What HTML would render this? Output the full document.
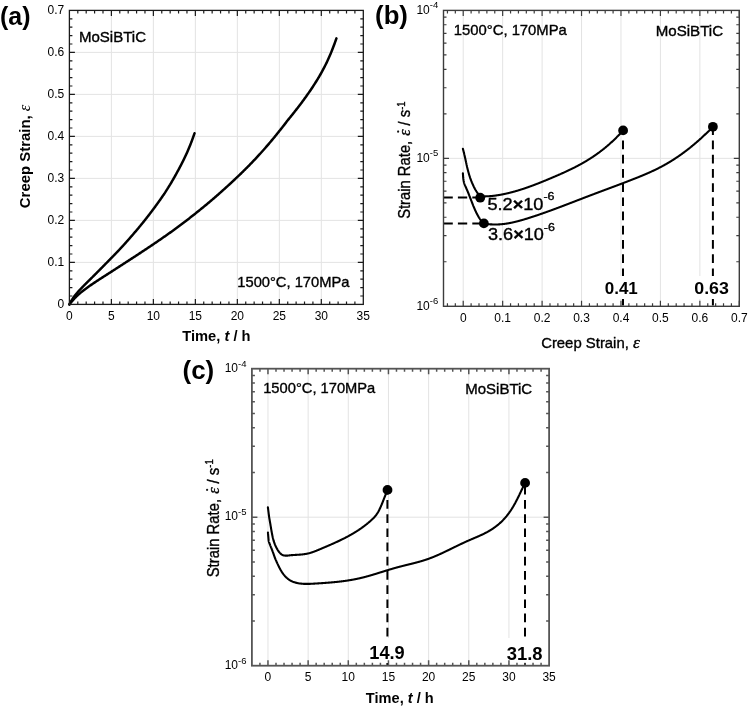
<!DOCTYPE html><html><head><meta charset="utf-8"><style>html,body{margin:0;padding:0;background:#fff;}svg{display:block;will-change:transform;}text{font-family:"Liberation Sans", sans-serif;fill:#000;}text.hv{stroke:#000;stroke-width:0.35px;}</style></head><body>
<svg width="750" height="708" viewBox="0 0 750 708">
<rect width="750" height="708" fill="#fff"/>
<line x1="111.39" y1="10.4" x2="111.39" y2="304.4" stroke="#e3e3e3" stroke-width="1"/>
<line x1="153.37" y1="10.4" x2="153.37" y2="304.4" stroke="#e3e3e3" stroke-width="1"/>
<line x1="195.36" y1="10.4" x2="195.36" y2="304.4" stroke="#e3e3e3" stroke-width="1"/>
<line x1="237.34" y1="10.4" x2="237.34" y2="304.4" stroke="#e3e3e3" stroke-width="1"/>
<line x1="279.33" y1="10.4" x2="279.33" y2="304.4" stroke="#e3e3e3" stroke-width="1"/>
<line x1="321.31" y1="10.4" x2="321.31" y2="304.4" stroke="#e3e3e3" stroke-width="1"/>
<line x1="69.4" y1="262.4" x2="363.3" y2="262.4" stroke="#e3e3e3" stroke-width="1"/>
<line x1="69.4" y1="220.4" x2="363.3" y2="220.4" stroke="#e3e3e3" stroke-width="1"/>
<line x1="69.4" y1="178.4" x2="363.3" y2="178.4" stroke="#e3e3e3" stroke-width="1"/>
<line x1="69.4" y1="136.4" x2="363.3" y2="136.4" stroke="#e3e3e3" stroke-width="1"/>
<line x1="69.4" y1="94.4" x2="363.3" y2="94.4" stroke="#e3e3e3" stroke-width="1"/>
<line x1="69.4" y1="52.4" x2="363.3" y2="52.4" stroke="#e3e3e3" stroke-width="1"/>
<path d="M69.4,304.4 L69.71,303.76 L70.03,303.14 L70.34,302.54 L70.65,301.97 L70.97,301.41 L71.28,300.87 L71.6,300.34 L71.91,299.83 L72.22,299.33 L72.54,298.84 L72.85,298.37 L73.16,297.91 L73.48,297.46 L73.79,297.03 L74.1,296.6 L74.42,296.18 L74.73,295.77 L75.04,295.37 L75.36,294.98 L75.67,294.59 L75.99,294.21 L76.3,293.83 L76.61,293.45 L76.93,293.09 L77.24,292.72 L77.55,292.36 L77.87,292 L78.18,291.65 L78.49,291.3 L78.81,290.95 L79.12,290.6 L79.43,290.26 L79.75,289.92 L80.06,289.58 L80.38,289.25 L80.69,288.92 L81,288.59 L81.32,288.26 L81.63,287.93 L81.94,287.61 L82.26,287.28 L82.57,286.96 L82.88,286.64 L83.2,286.32 L83.51,286 L83.82,285.69 L84.14,285.37 L84.45,285.06 L84.77,284.74 L85.08,284.43 L85.39,284.12 L85.71,283.8 L86.02,283.49 L86.33,283.18 L86.65,282.86 L86.96,282.55 L87.27,282.24 L87.59,281.93 L87.9,281.62 L88.21,281.31 L88.53,280.99 L88.84,280.68 L89.16,280.37 L89.47,280.06 L89.78,279.75 L90.1,279.44 L90.41,279.13 L90.72,278.81 L91.04,278.5 L91.35,278.19 L91.66,277.88 L91.98,277.57 L92.29,277.25 L92.6,276.94 L92.92,276.63 L93.23,276.32 L93.55,276 L93.86,275.69 L94.17,275.38 L94.49,275.06 L94.8,274.75 L95.11,274.43 L95.43,274.12 L95.74,273.81 L96.05,273.49 L96.37,273.18 L96.68,272.86 L96.99,272.55 L97.31,272.23 L97.62,271.92 L97.94,271.6 L98.25,271.28 L98.56,270.97 L98.88,270.65 L99.19,270.34 L99.5,270.02 L99.82,269.7 L100.13,269.39 L100.44,269.07 L100.76,268.75 L101.07,268.44 L101.38,268.12 L101.7,267.8 L102.01,267.48 L102.33,267.17 L102.64,266.85 L102.95,266.53 L103.27,266.21 L103.58,265.9 L103.89,265.58 L104.21,265.26 L104.52,264.94 L104.83,264.63 L105.15,264.31 L105.46,263.99 L105.77,263.67 L106.09,263.35 L106.4,263.03 L106.72,262.72 L107.03,262.4 L107.34,262.08 L107.66,261.76 L107.97,261.44 L108.28,261.12 L108.6,260.8 L108.91,260.48 L109.22,260.16 L109.54,259.84 L109.85,259.52 L110.17,259.2 L110.48,258.88 L110.79,258.56 L111.11,258.24 L111.42,257.92 L111.73,257.6 L112.05,257.28 L112.36,256.96 L112.67,256.64 L112.99,256.32 L113.3,256 L113.61,255.67 L113.93,255.35 L114.24,255.03 L114.56,254.7 L114.87,254.38 L115.18,254.05 L115.5,253.73 L115.81,253.4 L116.12,253.08 L116.44,252.75 L116.75,252.42 L117.06,252.09 L117.38,251.76 L117.69,251.43 L118,251.1 L118.32,250.77 L118.63,250.44 L118.95,250.11 L119.26,249.77 L119.57,249.44 L119.89,249.11 L120.2,248.77 L120.51,248.43 L120.83,248.09 L121.14,247.76 L121.45,247.42 L121.77,247.08 L122.08,246.74 L122.39,246.4 L122.71,246.05 L123.02,245.71 L123.34,245.37 L123.65,245.02 L123.96,244.68 L124.28,244.33 L124.59,243.99 L124.9,243.64 L125.22,243.29 L125.53,242.94 L125.84,242.59 L126.16,242.24 L126.47,241.89 L126.78,241.54 L127.1,241.19 L127.41,240.84 L127.73,240.48 L128.04,240.13 L128.35,239.77 L128.67,239.42 L128.98,239.06 L129.29,238.7 L129.61,238.34 L129.92,237.98 L130.23,237.63 L130.55,237.27 L130.86,236.91 L131.17,236.54 L131.49,236.18 L131.8,235.82 L132.12,235.46 L132.43,235.1 L132.74,234.73 L133.06,234.37 L133.37,234 L133.68,233.64 L134,233.27 L134.31,232.91 L134.62,232.54 L134.94,232.17 L135.25,231.81 L135.56,231.44 L135.88,231.07 L136.19,230.7 L136.51,230.33 L136.82,229.96 L137.13,229.58 L137.45,229.21 L137.76,228.84 L138.07,228.46 L138.39,228.09 L138.7,227.71 L139.01,227.34 L139.33,226.96 L139.64,226.58 L139.95,226.2 L140.27,225.83 L140.58,225.44 L140.9,225.06 L141.21,224.68 L141.52,224.3 L141.84,223.91 L142.15,223.53 L142.46,223.14 L142.78,222.76 L143.09,222.37 L143.4,221.98 L143.72,221.59 L144.03,221.2 L144.35,220.81 L144.66,220.42 L144.97,220.02 L145.29,219.63 L145.6,219.23 L145.91,218.84 L146.23,218.44 L146.54,218.04 L146.85,217.64 L147.17,217.24 L147.48,216.84 L147.79,216.44 L148.11,216.03 L148.42,215.63 L148.74,215.22 L149.05,214.82 L149.36,214.41 L149.68,214 L149.99,213.59 L150.3,213.18 L150.62,212.77 L150.93,212.36 L151.24,211.94 L151.56,211.53 L151.87,211.11 L152.18,210.7 L152.5,210.28 L152.81,209.86 L153.13,209.44 L153.44,209.02 L153.75,208.59 L154.07,208.17 L154.38,207.75 L154.69,207.32 L155.01,206.89 L155.32,206.47 L155.63,206.04 L155.95,205.61 L156.26,205.18 L156.57,204.75 L156.89,204.31 L157.2,203.88 L157.52,203.44 L157.83,203.01 L158.14,202.57 L158.46,202.13 L158.77,201.69 L159.08,201.25 L159.4,200.81 L159.71,200.37 L160.02,199.92 L160.34,199.48 L160.65,199.03 L160.96,198.58 L161.28,198.13 L161.59,197.68 L161.91,197.23 L162.22,196.78 L162.53,196.33 L162.85,195.87 L163.16,195.41 L163.47,194.95 L163.79,194.49 L164.1,194.02 L164.41,193.55 L164.73,193.08 L165.04,192.6 L165.35,192.12 L165.67,191.64 L165.98,191.15 L166.3,190.66 L166.61,190.17 L166.92,189.68 L167.24,189.19 L167.55,188.69 L167.86,188.19 L168.18,187.69 L168.49,187.18 L168.8,186.67 L169.12,186.16 L169.43,185.65 L169.74,185.13 L170.06,184.62 L170.37,184.1 L170.69,183.57 L171,183.05 L171.31,182.52 L171.63,181.99 L171.94,181.46 L172.25,180.92 L172.57,180.39 L172.88,179.85 L173.19,179.3 L173.51,178.76 L173.82,178.21 L174.13,177.66 L174.45,177.11 L174.76,176.55 L175.08,176 L175.39,175.44 L175.7,174.87 L176.02,174.31 L176.33,173.74 L176.64,173.18 L176.96,172.61 L177.27,172.03 L177.58,171.46 L177.9,170.88 L178.21,170.3 L178.52,169.72 L178.84,169.14 L179.15,168.55 L179.47,167.96 L179.78,167.37 L180.09,166.77 L180.41,166.17 L180.72,165.57 L181.03,164.96 L181.35,164.35 L181.66,163.74 L181.97,163.13 L182.29,162.51 L182.6,161.88 L182.92,161.26 L183.23,160.63 L183.54,159.99 L183.86,159.35 L184.17,158.71 L184.48,158.06 L184.8,157.4 L185.11,156.74 L185.42,156.07 L185.74,155.4 L186.05,154.73 L186.36,154.04 L186.68,153.35 L186.99,152.66 L187.31,151.96 L187.62,151.25 L187.93,150.53 L188.25,149.8 L188.56,149.06 L188.87,148.32 L189.19,147.57 L189.5,146.8 L189.81,146.03 L190.13,145.25 L190.44,144.46 L190.75,143.66 L191.07,142.85 L191.38,142.03 L191.7,141.2 L192.01,140.36 L192.32,139.51 L192.64,138.65 L192.95,137.78 L193.26,136.9 L193.58,136.01 L193.89,135.11 L194.2,134.21 L194.52,133.3" fill="none" stroke="#000" stroke-width="2.5" stroke-linecap="round" stroke-linejoin="round"/>
<path d="M69.4,304.4 L70.07,303.51 L70.74,302.68 L71.41,301.89 L72.08,301.11 L72.75,300.35 L73.42,299.61 L74.08,298.88 L74.75,298.18 L75.42,297.49 L76.09,296.83 L76.76,296.18 L77.43,295.55 L78.1,294.93 L78.77,294.33 L79.44,293.74 L80.11,293.17 L80.78,292.6 L81.45,292.05 L82.12,291.51 L82.78,290.97 L83.45,290.45 L84.12,289.93 L84.79,289.42 L85.46,288.92 L86.13,288.43 L86.8,287.94 L87.47,287.46 L88.14,286.98 L88.81,286.5 L89.48,286.03 L90.15,285.57 L90.82,285.11 L91.49,284.65 L92.15,284.19 L92.82,283.74 L93.49,283.29 L94.16,282.85 L94.83,282.4 L95.5,281.96 L96.17,281.52 L96.84,281.08 L97.51,280.64 L98.18,280.2 L98.85,279.77 L99.52,279.33 L100.19,278.9 L100.85,278.46 L101.52,278.03 L102.19,277.6 L102.86,277.17 L103.53,276.74 L104.2,276.3 L104.87,275.87 L105.54,275.44 L106.21,275.01 L106.88,274.58 L107.55,274.16 L108.22,273.73 L108.89,273.3 L109.55,272.87 L110.22,272.44 L110.89,272.01 L111.56,271.58 L112.23,271.15 L112.9,270.72 L113.57,270.29 L114.24,269.86 L114.91,269.43 L115.58,269 L116.25,268.57 L116.92,268.14 L117.59,267.71 L118.25,267.28 L118.92,266.85 L119.59,266.41 L120.26,265.98 L120.93,265.55 L121.6,265.12 L122.27,264.68 L122.94,264.25 L123.61,263.82 L124.28,263.38 L124.95,262.95 L125.62,262.52 L126.29,262.08 L126.96,261.65 L127.62,261.21 L128.29,260.78 L128.96,260.34 L129.63,259.91 L130.3,259.47 L130.97,259.04 L131.64,258.6 L132.31,258.17 L132.98,257.73 L133.65,257.29 L134.32,256.86 L134.99,256.42 L135.66,255.98 L136.32,255.54 L136.99,255.11 L137.66,254.67 L138.33,254.23 L139,253.79 L139.67,253.35 L140.34,252.91 L141.01,252.47 L141.68,252.03 L142.35,251.58 L143.02,251.14 L143.69,250.7 L144.36,250.26 L145.02,249.81 L145.69,249.37 L146.36,248.92 L147.03,248.48 L147.7,248.03 L148.37,247.58 L149.04,247.14 L149.71,246.69 L150.38,246.24 L151.05,245.79 L151.72,245.34 L152.39,244.89 L153.06,244.44 L153.72,243.98 L154.39,243.53 L155.06,243.08 L155.73,242.62 L156.4,242.17 L157.07,241.71 L157.74,241.25 L158.41,240.8 L159.08,240.34 L159.75,239.88 L160.42,239.42 L161.09,238.96 L161.76,238.49 L162.43,238.03 L163.09,237.57 L163.76,237.1 L164.43,236.64 L165.1,236.17 L165.77,235.7 L166.44,235.23 L167.11,234.76 L167.78,234.29 L168.45,233.82 L169.12,233.34 L169.79,232.86 L170.46,232.39 L171.13,231.91 L171.79,231.43 L172.46,230.95 L173.13,230.46 L173.8,229.98 L174.47,229.49 L175.14,229 L175.81,228.51 L176.48,228.02 L177.15,227.53 L177.82,227.03 L178.49,226.54 L179.16,226.04 L179.83,225.54 L180.49,225.04 L181.16,224.54 L181.83,224.04 L182.5,223.53 L183.17,223.03 L183.84,222.52 L184.51,222.01 L185.18,221.5 L185.85,220.98 L186.52,220.47 L187.19,219.95 L187.86,219.44 L188.53,218.92 L189.2,218.4 L189.86,217.88 L190.53,217.36 L191.2,216.83 L191.87,216.31 L192.54,215.78 L193.21,215.25 L193.88,214.72 L194.55,214.19 L195.22,213.66 L195.89,213.13 L196.56,212.59 L197.23,212.05 L197.9,211.52 L198.56,210.98 L199.23,210.44 L199.9,209.9 L200.57,209.35 L201.24,208.81 L201.91,208.26 L202.58,207.72 L203.25,207.17 L203.92,206.62 L204.59,206.07 L205.26,205.52 L205.93,204.96 L206.6,204.41 L207.26,203.85 L207.93,203.29 L208.6,202.73 L209.27,202.17 L209.94,201.6 L210.61,201.04 L211.28,200.47 L211.95,199.9 L212.62,199.33 L213.29,198.75 L213.96,198.18 L214.63,197.6 L215.3,197.02 L215.96,196.44 L216.63,195.86 L217.3,195.28 L217.97,194.69 L218.64,194.11 L219.31,193.52 L219.98,192.93 L220.65,192.33 L221.32,191.74 L221.99,191.14 L222.66,190.54 L223.33,189.94 L224,189.34 L224.67,188.74 L225.33,188.13 L226,187.53 L226.67,186.92 L227.34,186.31 L228.01,185.7 L228.68,185.08 L229.35,184.47 L230.02,183.85 L230.69,183.23 L231.36,182.61 L232.03,181.99 L232.7,181.37 L233.37,180.74 L234.03,180.12 L234.7,179.49 L235.37,178.86 L236.04,178.22 L236.71,177.59 L237.38,176.95 L238.05,176.32 L238.72,175.68 L239.39,175.03 L240.06,174.39 L240.73,173.74 L241.4,173.09 L242.07,172.44 L242.73,171.78 L243.4,171.13 L244.07,170.47 L244.74,169.8 L245.41,169.14 L246.08,168.47 L246.75,167.8 L247.42,167.13 L248.09,166.45 L248.76,165.77 L249.43,165.09 L250.1,164.4 L250.77,163.72 L251.43,163.03 L252.1,162.33 L252.77,161.63 L253.44,160.93 L254.11,160.23 L254.78,159.52 L255.45,158.81 L256.12,158.1 L256.79,157.38 L257.46,156.66 L258.13,155.93 L258.8,155.2 L259.47,154.47 L260.14,153.74 L260.8,153 L261.47,152.25 L262.14,151.51 L262.81,150.76 L263.48,150 L264.15,149.24 L264.82,148.48 L265.49,147.71 L266.16,146.94 L266.83,146.17 L267.5,145.39 L268.17,144.61 L268.84,143.83 L269.5,143.04 L270.17,142.25 L270.84,141.45 L271.51,140.65 L272.18,139.85 L272.85,139.04 L273.52,138.24 L274.19,137.42 L274.86,136.61 L275.53,135.79 L276.2,134.97 L276.87,134.15 L277.54,133.32 L278.2,132.49 L278.87,131.66 L279.54,130.82 L280.21,129.98 L280.88,129.13 L281.55,128.28 L282.22,127.43 L282.89,126.58 L283.56,125.72 L284.23,124.86 L284.9,123.99 L285.57,123.12 L286.24,122.25 L286.9,121.37 L287.57,120.49 L288.24,119.66 L288.91,118.85 L289.58,118.03 L290.25,117.2 L290.92,116.38 L291.59,115.55 L292.26,114.71 L292.93,113.88 L293.6,113.03 L294.27,112.19 L294.94,111.34 L295.61,110.49 L296.27,109.63 L296.94,108.77 L297.61,107.91 L298.28,107.04 L298.95,106.17 L299.62,105.29 L300.29,104.41 L300.96,103.52 L301.63,102.63 L302.3,101.73 L302.97,100.82 L303.64,99.91 L304.31,99 L304.97,98.08 L305.64,97.15 L306.31,96.21 L306.98,95.27 L307.65,94.32 L308.32,93.36 L308.99,92.4 L309.66,91.43 L310.33,90.45 L311,89.46 L311.67,88.46 L312.34,87.46 L313.01,86.45 L313.67,85.43 L314.34,84.39 L315.01,83.35 L315.68,82.29 L316.35,81.23 L317.02,80.14 L317.69,79.05 L318.36,77.93 L319.03,76.81 L319.7,75.66 L320.37,74.5 L321.04,73.32 L321.71,72.12 L322.37,70.9 L323.04,69.66 L323.71,68.39 L324.38,67.1 L325.05,65.79 L325.72,64.45 L326.39,63.08 L327.06,61.69 L327.73,60.26 L328.4,58.8 L329.07,57.31 L329.74,55.78 L330.41,54.21 L331.08,52.61 L331.74,50.96 L332.41,49.27 L333.08,47.54 L333.75,45.78 L334.42,43.98 L335.09,42.15 L335.76,40.29 L336.43,38.39" fill="none" stroke="#000" stroke-width="2.5" stroke-linecap="round" stroke-linejoin="round"/>
<rect x="69.4" y="10.4" width="293.9" height="294" fill="none" stroke="#1a1a1a" stroke-width="1.3"/>
<path d="M111.39,304.4v-5.5 M111.39,10.4v5.5 M153.37,304.4v-5.5 M153.37,10.4v5.5 M195.36,304.4v-5.5 M195.36,10.4v5.5 M237.34,304.4v-5.5 M237.34,10.4v5.5 M279.33,304.4v-5.5 M279.33,10.4v5.5 M321.31,304.4v-5.5 M321.31,10.4v5.5 M77.8,304.4v-3 M77.8,10.4v3 M86.19,304.4v-3 M86.19,10.4v3 M94.59,304.4v-3 M94.59,10.4v3 M102.99,304.4v-3 M102.99,10.4v3 M119.78,304.4v-3 M119.78,10.4v3 M128.18,304.4v-3 M128.18,10.4v3 M136.58,304.4v-3 M136.58,10.4v3 M144.97,304.4v-3 M144.97,10.4v3 M161.77,304.4v-3 M161.77,10.4v3 M170.17,304.4v-3 M170.17,10.4v3 M178.56,304.4v-3 M178.56,10.4v3 M186.96,304.4v-3 M186.96,10.4v3 M203.75,304.4v-3 M203.75,10.4v3 M212.15,304.4v-3 M212.15,10.4v3 M220.55,304.4v-3 M220.55,10.4v3 M228.95,304.4v-3 M228.95,10.4v3 M245.74,304.4v-3 M245.74,10.4v3 M254.14,304.4v-3 M254.14,10.4v3 M262.53,304.4v-3 M262.53,10.4v3 M270.93,304.4v-3 M270.93,10.4v3 M287.73,304.4v-3 M287.73,10.4v3 M296.12,304.4v-3 M296.12,10.4v3 M304.52,304.4v-3 M304.52,10.4v3 M312.92,304.4v-3 M312.92,10.4v3 M329.71,304.4v-3 M329.71,10.4v3 M338.11,304.4v-3 M338.11,10.4v3 M346.51,304.4v-3 M346.51,10.4v3 M354.9,304.4v-3 M354.9,10.4v3 M69.4,262.4h5.5 M363.3,262.4h-5.5 M69.4,220.4h5.5 M363.3,220.4h-5.5 M69.4,178.4h5.5 M363.3,178.4h-5.5 M69.4,136.4h5.5 M363.3,136.4h-5.5 M69.4,94.4h5.5 M363.3,94.4h-5.5 M69.4,52.4h5.5 M363.3,52.4h-5.5 M69.4,296h3 M363.3,296h-3 M69.4,287.6h3 M363.3,287.6h-3 M69.4,279.2h3 M363.3,279.2h-3 M69.4,270.8h3 M363.3,270.8h-3 M69.4,254h3 M363.3,254h-3 M69.4,245.6h3 M363.3,245.6h-3 M69.4,237.2h3 M363.3,237.2h-3 M69.4,228.8h3 M363.3,228.8h-3 M69.4,212h3 M363.3,212h-3 M69.4,203.6h3 M363.3,203.6h-3 M69.4,195.2h3 M363.3,195.2h-3 M69.4,186.8h3 M363.3,186.8h-3 M69.4,170h3 M363.3,170h-3 M69.4,161.6h3 M363.3,161.6h-3 M69.4,153.2h3 M363.3,153.2h-3 M69.4,144.8h3 M363.3,144.8h-3 M69.4,128h3 M363.3,128h-3 M69.4,119.6h3 M363.3,119.6h-3 M69.4,111.2h3 M363.3,111.2h-3 M69.4,102.8h3 M363.3,102.8h-3 M69.4,86h3 M363.3,86h-3 M69.4,77.6h3 M363.3,77.6h-3 M69.4,69.2h3 M363.3,69.2h-3 M69.4,60.8h3 M363.3,60.8h-3 M69.4,44h3 M363.3,44h-3 M69.4,35.6h3 M363.3,35.6h-3 M69.4,27.2h3 M363.3,27.2h-3 M69.4,18.8h3 M363.3,18.8h-3 " stroke="#1a1a1a" stroke-width="1.2" fill="none"/>
<text x="69.4" y="319.6" font-size="12" text-anchor="middle" font-weight="normal">0</text>
<text x="111.39" y="319.6" font-size="12" text-anchor="middle" font-weight="normal">5</text>
<text x="153.37" y="319.6" font-size="12" text-anchor="middle" font-weight="normal">10</text>
<text x="195.36" y="319.6" font-size="12" text-anchor="middle" font-weight="normal">15</text>
<text x="237.34" y="319.6" font-size="12" text-anchor="middle" font-weight="normal">20</text>
<text x="279.33" y="319.6" font-size="12" text-anchor="middle" font-weight="normal">25</text>
<text x="321.31" y="319.6" font-size="12" text-anchor="middle" font-weight="normal">30</text>
<text x="363.3" y="319.6" font-size="12" text-anchor="middle" font-weight="normal">35</text>
<text x="64.2" y="308" font-size="12" text-anchor="end" font-weight="normal">0</text>
<text x="64.2" y="266" font-size="12" text-anchor="end" font-weight="normal">0.1</text>
<text x="64.2" y="224" font-size="12" text-anchor="end" font-weight="normal">0.2</text>
<text x="64.2" y="182" font-size="12" text-anchor="end" font-weight="normal">0.3</text>
<text x="64.2" y="140" font-size="12" text-anchor="end" font-weight="normal">0.4</text>
<text x="64.2" y="98" font-size="12" text-anchor="end" font-weight="normal">0.5</text>
<text x="64.2" y="56" font-size="12" text-anchor="end" font-weight="normal">0.6</text>
<text x="64.2" y="14" font-size="12" text-anchor="end" font-weight="normal">0.7</text>
<text id="timeA" x="216.4" y="341.4" font-size="14.5" text-anchor="middle" font-weight="bold" textLength="68.23" lengthAdjust="spacingAndGlyphs">Time, <tspan font-style="italic">t</tspan> / h</text>
<text id="ylabA" transform="translate(30,156.4) rotate(-90) scale(0.9698,1)" font-size="15.4" text-anchor="middle" font-weight="bold">Creep Strain, <tspan font-family="Liberation Serif" font-style="italic" font-weight="normal" font-size="17">ε</tspan></text>
<text id="labA" x="0" y="25.3" font-size="25" text-anchor="start" font-weight="bold" textLength="30.47" lengthAdjust="spacingAndGlyphs">(a)</text>
<text id="mosiA" class="hv" x="78.9" y="42.4" font-size="14.5" text-anchor="start" font-weight="normal" textLength="67.11" lengthAdjust="spacingAndGlyphs">MoSiBTiC</text>
<text id="condA" class="hv" x="237.3" y="286.9" font-size="14.5" text-anchor="start" font-weight="normal" textLength="112.09" lengthAdjust="spacingAndGlyphs">1500°C, 170MPa</text>
<line x1="463.22" y1="10.4" x2="463.22" y2="306.3" stroke="#e3e3e3" stroke-width="1"/>
<line x1="502.66" y1="10.4" x2="502.66" y2="306.3" stroke="#e3e3e3" stroke-width="1"/>
<line x1="542.1" y1="10.4" x2="542.1" y2="306.3" stroke="#e3e3e3" stroke-width="1"/>
<line x1="581.54" y1="10.4" x2="581.54" y2="306.3" stroke="#e3e3e3" stroke-width="1"/>
<line x1="620.98" y1="10.4" x2="620.98" y2="306.3" stroke="#e3e3e3" stroke-width="1"/>
<line x1="660.42" y1="10.4" x2="660.42" y2="306.3" stroke="#e3e3e3" stroke-width="1"/>
<line x1="699.86" y1="10.4" x2="699.86" y2="306.3" stroke="#e3e3e3" stroke-width="1"/>
<line x1="443.5" y1="158.35" x2="739.3" y2="158.35" stroke="#e3e3e3" stroke-width="1"/>
<line x1="443.5" y1="197.6" x2="480.2" y2="197.6" stroke="#000" stroke-width="2" stroke-dasharray="9.3 5.1"/>
<line x1="443.5" y1="223.4" x2="483.8" y2="223.4" stroke="#000" stroke-width="2" stroke-dasharray="9.3 5.1"/>
<line x1="623" y1="126.4" x2="623" y2="306.3" stroke="#000" stroke-width="2" stroke-dasharray="8.7 5.5" stroke-dashoffset="0"/>
<line x1="712.9" y1="126.4" x2="712.9" y2="306.3" stroke="#000" stroke-width="2" stroke-dasharray="8.7 5.5" stroke-dashoffset="0"/>
<path d="M462.9,148.8 L463,149.19 L463.1,149.58 L463.2,149.97 L463.3,150.36 L463.41,150.76 L463.51,151.15 L463.61,151.54 L463.71,151.93 L463.81,152.32 L463.91,152.71 L464,153.11 L464.1,153.5 L464.2,153.9 L464.29,154.29 L464.38,154.69 L464.48,155.09 L464.57,155.49 L464.66,155.89 L464.75,156.29 L464.84,156.69 L464.93,157.09 L465.02,157.49 L465.11,157.89 L465.2,158.3 L465.29,158.72 L465.38,159.14 L465.48,159.57 L465.57,159.99 L465.66,160.42 L465.75,160.85 L465.84,161.27 L465.93,161.7 L466.02,162.13 L466.12,162.55 L466.21,162.98 L466.3,163.4 L466.39,163.81 L466.48,164.22 L466.57,164.62 L466.65,165.03 L466.74,165.43 L466.83,165.83 L466.92,166.23 L467.01,166.64 L467.1,167.05 L467.2,167.46 L467.3,167.88 L467.4,168.3 L467.52,168.77 L467.64,169.26 L467.77,169.75 L467.9,170.24 L468.03,170.74 L468.16,171.24 L468.3,171.74 L468.44,172.24 L468.58,172.74 L468.72,173.23 L468.86,173.72 L469,174.2 L469.13,174.65 L469.27,175.09 L469.4,175.53 L469.54,175.97 L469.68,176.4 L469.81,176.83 L469.95,177.26 L470.1,177.69 L470.24,178.12 L470.39,178.54 L470.54,178.97 L470.7,179.4 L470.86,179.83 L471.03,180.26 L471.19,180.7 L471.36,181.13 L471.54,181.56 L471.72,181.99 L471.89,182.42 L472.07,182.84 L472.25,183.26 L472.44,183.68 L472.62,184.09 L472.8,184.5 L472.97,184.88 L473.14,185.25 L473.31,185.62 L473.48,185.98 L473.65,186.35 L473.83,186.71 L474,187.06 L474.18,187.42 L474.35,187.77 L474.53,188.12 L474.72,188.46 L474.9,188.8 L475.08,189.12 L475.25,189.43 L475.43,189.74 L475.61,190.05 L475.8,190.35 L475.98,190.66 L476.17,190.95 L476.35,191.25 L476.54,191.54 L476.73,191.83 L476.91,192.12 L477.1,192.4 L477.27,192.66 L477.44,192.92 L477.6,193.19 L477.77,193.45 L477.94,193.71 L478.1,193.96 L478.27,194.21 L478.45,194.45 L478.63,194.68 L478.81,194.9 L479,195.11 L479.2,195.3 L479.38,195.46 L479.56,195.61 L479.75,195.76 L479.94,195.91 L480.14,196.04 L480.33,196.17 L480.53,196.29 L480.74,196.39 L480.95,196.49 L481.16,196.57 L481.38,196.64 L481.6,196.7 L481.84,196.74 L482.08,196.76 L482.33,196.76 L482.58,196.74 L482.83,196.71 L483.09,196.66 L483.35,196.62 L483.63,196.57 L483.91,196.52 L484.19,196.47 L484.49,196.43 L484.8,196.4 L485.27,196.37 L485.78,196.34 L486.32,196.31 L486.88,196.28 L487.47,196.26 L488.05,196.23 L488.64,196.21 L489.22,196.18 L489.79,196.15 L490.33,196.12 L490.83,196.09 L491.3,196.05 L491.6,196.03 L491.89,196 L492.16,195.97 L492.43,195.94 L492.69,195.91 L492.94,195.88 L493.19,195.85 L493.43,195.82 L493.68,195.79 L493.93,195.76 L494.18,195.72 L494.44,195.69 L494.7,195.66 L494.96,195.62 L495.22,195.59 L495.48,195.55 L495.75,195.51 L496.01,195.48 L496.27,195.44 L496.53,195.4 L496.79,195.36 L497.05,195.32 L497.31,195.28 L497.58,195.24 L497.84,195.2 L498.1,195.16 L498.36,195.12 L498.62,195.07 L498.88,195.03 L499.15,194.99 L499.41,194.94 L499.67,194.9 L499.93,194.85 L500.19,194.8 L500.45,194.76 L500.71,194.71 L500.98,194.66 L501.24,194.61 L501.5,194.56 L501.76,194.51 L502.02,194.46 L502.28,194.41 L502.55,194.36 L502.81,194.31 L503.07,194.26 L503.33,194.21 L503.59,194.15 L503.85,194.1 L504.11,194.05 L504.38,193.99 L504.64,193.94 L504.9,193.88 L505.16,193.82 L505.42,193.77 L505.68,193.71 L505.95,193.65 L506.21,193.59 L506.47,193.53 L506.73,193.47 L506.99,193.42 L507.25,193.35 L507.51,193.29 L507.78,193.23 L508.04,193.17 L508.3,193.11 L508.56,193.05 L508.82,192.98 L509.08,192.92 L509.34,192.85 L509.61,192.79 L509.87,192.73 L510.13,192.66 L510.39,192.59 L510.65,192.53 L510.91,192.46 L511.18,192.39 L511.44,192.33 L511.7,192.26 L511.96,192.19 L512.22,192.12 L512.48,192.05 L512.74,191.98 L513.01,191.91 L513.27,191.84 L513.53,191.77 L513.79,191.69 L514.05,191.62 L514.31,191.55 L514.58,191.48 L514.84,191.4 L515.1,191.33 L515.36,191.25 L515.62,191.18 L515.88,191.1 L516.14,191.03 L516.4,190.95 L516.67,190.88 L516.93,190.8 L517.19,190.72 L517.45,190.64 L517.71,190.57 L517.97,190.49 L518.24,190.41 L518.5,190.33 L518.76,190.25 L519.02,190.17 L519.28,190.09 L519.54,190.01 L519.8,189.93 L520.07,189.85 L520.33,189.76 L520.59,189.68 L520.85,189.6 L521.11,189.52 L521.37,189.43 L521.64,189.35 L521.9,189.26 L522.16,189.18 L522.42,189.09 L522.68,189.01 L522.94,188.92 L523.2,188.84 L523.47,188.75 L523.73,188.66 L523.99,188.58 L524.25,188.49 L524.51,188.4 L524.77,188.31 L525.04,188.23 L525.3,188.14 L525.56,188.05 L525.82,187.96 L526.08,187.87 L526.34,187.78 L526.6,187.69 L526.87,187.6 L527.13,187.51 L527.39,187.42 L527.65,187.32 L527.91,187.23 L528.17,187.14 L528.43,187.05 L528.7,186.95 L528.96,186.86 L529.22,186.77 L529.48,186.67 L529.74,186.58 L530,186.49 L530.27,186.39 L530.53,186.3 L530.79,186.2 L531.05,186.1 L531.31,186.01 L531.57,185.91 L531.83,185.82 L532.1,185.72 L532.36,185.62 L532.62,185.53 L532.88,185.43 L533.14,185.33 L533.4,185.23 L533.67,185.13 L533.93,185.03 L534.19,184.94 L534.45,184.84 L534.71,184.74 L534.97,184.64 L535.23,184.54 L535.5,184.44 L535.76,184.34 L536.02,184.24 L536.28,184.14 L536.54,184.04 L536.8,183.93 L537.06,183.83 L537.33,183.73 L537.59,183.63 L537.85,183.53 L538.11,183.42 L538.37,183.32 L538.63,183.22 L538.89,183.12 L539.16,183.01 L539.42,182.91 L539.68,182.8 L539.94,182.7 L540.2,182.6 L540.46,182.49 L540.73,182.39 L540.99,182.28 L541.25,182.18 L541.51,182.07 L541.77,181.97 L542.03,181.86 L542.29,181.76 L542.56,181.65 L542.82,181.54 L543.08,181.44 L543.34,181.33 L543.6,181.22 L543.86,181.12 L544.12,181.01 L544.39,180.9 L544.65,180.8 L544.91,180.69 L545.17,180.58 L545.43,180.47 L545.69,180.36 L545.96,180.26 L546.22,180.15 L546.48,180.04 L546.74,179.93 L547,179.82 L547.26,179.71 L547.52,179.6 L547.79,179.5 L548.05,179.39 L548.31,179.28 L548.57,179.17 L548.83,179.06 L549.09,178.95 L549.36,178.84 L549.62,178.73 L549.88,178.62 L550.14,178.51 L550.4,178.4 L550.66,178.29 L550.92,178.17 L551.19,178.06 L551.45,177.95 L551.71,177.84 L551.97,177.73 L552.23,177.62 L552.49,177.51 L552.75,177.4 L553.02,177.28 L553.28,177.17 L553.54,177.06 L553.8,176.95 L554.06,176.84 L554.32,176.72 L554.59,176.61 L554.85,176.5 L555.11,176.39 L555.37,176.28 L555.63,176.16 L555.89,176.05 L556.15,175.94 L556.42,175.82 L556.68,175.71 L556.94,175.6 L557.2,175.48 L557.46,175.37 L557.72,175.26 L557.98,175.14 L558.25,175.03 L558.51,174.92 L558.77,174.8 L559.03,174.69 L559.29,174.57 L559.55,174.46 L559.82,174.34 L560.08,174.23 L560.34,174.11 L560.6,174 L560.86,173.88 L561.12,173.76 L561.38,173.65 L561.65,173.53 L561.91,173.42 L562.17,173.3 L562.43,173.18 L562.69,173.06 L562.95,172.95 L563.21,172.83 L563.48,172.71 L563.74,172.59 L564,172.47 L564.26,172.35 L564.52,172.24 L564.78,172.12 L565.05,172 L565.31,171.88 L565.57,171.76 L565.83,171.64 L566.09,171.52 L566.35,171.39 L566.61,171.27 L566.88,171.15 L567.14,171.03 L567.4,170.91 L567.66,170.78 L567.92,170.66 L568.18,170.54 L568.45,170.42 L568.71,170.29 L568.97,170.17 L569.23,170.04 L569.49,169.92 L569.75,169.79 L570.01,169.67 L570.28,169.54 L570.54,169.41 L570.8,169.29 L571.06,169.16 L571.32,169.03 L571.58,168.91 L571.85,168.78 L572.11,168.65 L572.37,168.52 L572.63,168.39 L572.89,168.26 L573.15,168.13 L573.41,168 L573.68,167.87 L573.94,167.74 L574.2,167.6 L574.46,167.47 L574.72,167.34 L574.98,167.21 L575.25,167.07 L575.51,166.94 L575.77,166.8 L576.03,166.67 L576.29,166.53 L576.55,166.4 L576.81,166.26 L577.08,166.12 L577.34,165.99 L577.6,165.85 L577.86,165.71 L578.12,165.57 L578.38,165.43 L578.64,165.29 L578.91,165.15 L579.17,165.01 L579.43,164.87 L579.69,164.73 L579.95,164.58 L580.21,164.44 L580.48,164.3 L580.74,164.15 L581,164.01 L581.26,163.86 L581.52,163.72 L581.78,163.57 L582.04,163.43 L582.3,163.28 L582.57,163.13 L582.83,162.98 L583.09,162.83 L583.35,162.68 L583.61,162.53 L583.88,162.38 L584.14,162.23 L584.4,162.08 L584.66,161.93 L584.92,161.77 L585.18,161.62 L585.44,161.46 L585.71,161.31 L585.97,161.15 L586.23,161 L586.49,160.84 L586.75,160.68 L587.01,160.52 L587.28,160.36 L587.54,160.2 L587.8,160.04 L588.06,159.88 L588.32,159.72 L588.58,159.56 L588.84,159.4 L589.11,159.23 L589.37,159.07 L589.63,158.9 L589.89,158.74 L590.15,158.57 L590.41,158.4 L590.68,158.24 L590.94,158.07 L591.2,157.9 L591.46,157.73 L591.72,157.56 L591.98,157.39 L592.24,157.21 L592.51,157.04 L592.77,156.87 L593.03,156.69 L593.29,156.52 L593.55,156.34 L593.81,156.16 L594.08,155.99 L594.34,155.81 L594.6,155.63 L594.86,155.45 L595.12,155.27 L595.38,155.09 L595.64,154.91 L595.91,154.72 L596.17,154.54 L596.43,154.36 L596.69,154.17 L596.95,153.98 L597.21,153.8 L597.47,153.61 L597.73,153.42 L598,153.23 L598.26,153.04 L598.52,152.85 L598.78,152.66 L599.04,152.46 L599.31,152.27 L599.57,152.08 L599.83,151.88 L600.09,151.69 L600.35,151.49 L600.61,151.29 L600.87,151.09 L601.13,150.89 L601.4,150.69 L601.66,150.49 L601.92,150.29 L602.18,150.08 L602.44,149.88 L602.71,149.67 L602.97,149.47 L603.23,149.26 L603.49,149.05 L603.75,148.85 L604.01,148.64 L604.27,148.43 L604.53,148.21 L604.8,148 L605.06,147.79 L605.32,147.57 L605.58,147.36 L605.84,147.14 L606.11,146.92 L606.37,146.7 L606.63,146.48 L606.89,146.27 L607.15,146.04 L607.41,145.82 L607.67,145.6 L607.94,145.37 L608.2,145.15 L608.46,144.92 L608.72,144.69 L608.98,144.46 L609.24,144.24 L609.51,144.01 L609.77,143.77 L610.03,143.54 L610.29,143.31 L610.55,143.08 L610.81,142.84 L611.07,142.6 L611.34,142.36 L611.6,142.12 L611.86,141.88 L612.12,141.64 L612.38,141.4 L612.64,141.16 L612.9,140.92 L613.17,140.67 L613.43,140.43 L613.69,140.18 L613.95,139.93 L614.21,139.68 L614.47,139.43 L614.74,139.17 L615,138.92 L615.26,138.67 L615.52,138.41 L615.78,138.16 L616.04,137.9 L616.3,137.64 L616.56,137.38 L616.82,137.12 L617.09,136.86 L617.35,136.6 L617.61,136.33 L617.87,136.06 L618.14,135.8 L618.4,135.53 L618.66,135.26 L618.92,134.99 L619.18,134.72 L619.44,134.45 L619.7,134.17 L619.96,133.9 L620.22,133.62 L620.49,133.34 L620.75,133.06 L621.01,132.78 L621.27,132.5 L621.53,132.21 L621.79,131.93 L622.06,131.64 L622.32,131.36 L622.58,131.07 L622.84,130.79 L623.1,130.5" fill="none" stroke="#000" stroke-width="2.1" stroke-linecap="round" stroke-linejoin="round"/>
<path d="M462.9,173.3 L462.93,173.74 L462.96,174.19 L462.99,174.63 L463.01,175.08 L463.04,175.53 L463.06,175.98 L463.09,176.42 L463.12,176.86 L463.16,177.3 L463.2,177.74 L463.25,178.17 L463.3,178.6 L463.35,179 L463.41,179.39 L463.47,179.78 L463.53,180.17 L463.59,180.55 L463.66,180.94 L463.74,181.32 L463.82,181.7 L463.9,182.07 L463.99,182.45 L464.09,182.83 L464.2,183.2 L464.32,183.57 L464.45,183.94 L464.58,184.31 L464.73,184.68 L464.88,185.04 L465.03,185.4 L465.19,185.76 L465.35,186.13 L465.52,186.49 L465.68,186.86 L465.84,187.23 L466,187.6 L466.17,188 L466.34,188.4 L466.51,188.8 L466.69,189.21 L466.87,189.62 L467.05,190.03 L467.22,190.44 L467.4,190.85 L467.58,191.26 L467.75,191.67 L467.93,192.09 L468.1,192.5 L468.27,192.92 L468.44,193.34 L468.61,193.76 L468.77,194.18 L468.94,194.61 L469.11,195.03 L469.27,195.46 L469.44,195.88 L469.6,196.31 L469.77,196.74 L469.93,197.17 L470.1,197.6 L470.27,198.04 L470.45,198.49 L470.62,198.94 L470.8,199.39 L470.97,199.84 L471.15,200.3 L471.32,200.75 L471.5,201.2 L471.67,201.65 L471.85,202.1 L472.02,202.55 L472.2,203 L472.37,203.44 L472.55,203.88 L472.72,204.31 L472.89,204.75 L473.06,205.19 L473.24,205.62 L473.41,206.06 L473.59,206.49 L473.76,206.92 L473.94,207.35 L474.12,207.78 L474.3,208.2 L474.48,208.61 L474.65,209.01 L474.83,209.42 L475.01,209.82 L475.18,210.22 L475.36,210.62 L475.55,211.02 L475.73,211.41 L475.92,211.81 L476.11,212.21 L476.3,212.6 L476.5,213 L476.71,213.41 L476.92,213.83 L477.14,214.26 L477.36,214.68 L477.59,215.11 L477.82,215.53 L478.05,215.95 L478.28,216.36 L478.51,216.77 L478.74,217.16 L478.97,217.54 L479.2,217.9 L479.39,218.19 L479.58,218.48 L479.77,218.75 L479.95,219.02 L480.14,219.29 L480.33,219.55 L480.52,219.8 L480.71,220.05 L480.91,220.3 L481.1,220.53 L481.3,220.77 L481.5,221 L481.68,221.21 L481.85,221.41 L482.03,221.62 L482.2,221.82 L482.37,222.02 L482.55,222.21 L482.73,222.4 L482.92,222.58 L483.12,222.75 L483.33,222.91 L483.56,223.06 L483.8,223.2 L484.13,223.36 L484.49,223.49 L484.87,223.61 L485.27,223.71 L485.69,223.79 L486.12,223.87 L486.56,223.93 L487,223.99 L487.45,224.05 L487.91,224.1 L488.36,224.15 L488.8,224.2 L489.3,224.26 L489.82,224.3 L490.35,224.34 L490.89,224.37 L491.44,224.4 L491.99,224.42 L492.53,224.44 L493.07,224.45 L493.58,224.47 L494.08,224.47 L494.56,224.48 L495,224.49 L495.29,224.49 L495.57,224.49 L495.84,224.49 L496.1,224.49 L496.35,224.49 L496.6,224.48 L496.84,224.48 L497.09,224.47 L497.33,224.46 L497.57,224.46 L497.82,224.45 L498.07,224.44 L498.32,224.43 L498.58,224.41 L498.84,224.4 L499.09,224.39 L499.35,224.37 L499.6,224.36 L499.86,224.34 L500.12,224.32 L500.37,224.3 L500.63,224.28 L500.88,224.26 L501.14,224.24 L501.39,224.22 L501.65,224.2 L501.91,224.17 L502.16,224.15 L502.42,224.12 L502.67,224.1 L502.93,224.07 L503.18,224.04 L503.44,224.01 L503.7,223.98 L503.95,223.95 L504.21,223.92 L504.46,223.89 L504.72,223.85 L504.98,223.82 L505.23,223.78 L505.49,223.75 L505.74,223.71 L506,223.67 L506.25,223.63 L506.51,223.6 L506.77,223.56 L507.02,223.51 L507.28,223.47 L507.53,223.43 L507.79,223.39 L508.04,223.35 L508.3,223.3 L508.56,223.26 L508.81,223.21 L509.07,223.16 L509.32,223.12 L509.58,223.07 L509.83,223.02 L510.09,222.97 L510.35,222.92 L510.6,222.87 L510.86,222.82 L511.11,222.77 L511.37,222.72 L511.62,222.66 L511.88,222.61 L512.14,222.55 L512.39,222.5 L512.65,222.44 L512.9,222.39 L513.16,222.33 L513.41,222.27 L513.67,222.21 L513.93,222.16 L514.18,222.1 L514.44,222.04 L514.69,221.98 L514.95,221.92 L515.21,221.85 L515.46,221.79 L515.72,221.73 L515.97,221.67 L516.23,221.6 L516.48,221.54 L516.74,221.48 L517,221.41 L517.25,221.34 L517.51,221.28 L517.76,221.21 L518.02,221.15 L518.27,221.08 L518.53,221.01 L518.79,220.94 L519.04,220.87 L519.3,220.8 L519.55,220.73 L519.81,220.66 L520.06,220.59 L520.32,220.52 L520.58,220.45 L520.83,220.38 L521.09,220.31 L521.34,220.24 L521.6,220.16 L521.85,220.09 L522.11,220.02 L522.37,219.94 L522.62,219.87 L522.88,219.79 L523.13,219.72 L523.39,219.64 L523.64,219.57 L523.9,219.49 L524.16,219.42 L524.41,219.34 L524.67,219.26 L524.92,219.18 L525.18,219.11 L525.43,219.03 L525.69,218.95 L525.95,218.87 L526.2,218.8 L526.46,218.72 L526.71,218.64 L526.97,218.56 L527.23,218.48 L527.48,218.4 L527.74,218.32 L527.99,218.24 L528.25,218.16 L528.5,218.08 L528.76,218 L529.02,217.92 L529.27,217.84 L529.53,217.76 L529.78,217.68 L530.04,217.59 L530.29,217.51 L530.55,217.43 L530.81,217.35 L531.06,217.27 L531.32,217.18 L531.57,217.1 L531.83,217.02 L532.08,216.93 L532.34,216.85 L532.6,216.77 L532.85,216.68 L533.11,216.6 L533.36,216.52 L533.62,216.43 L533.87,216.35 L534.13,216.26 L534.39,216.18 L534.64,216.1 L534.9,216.01 L535.15,215.93 L535.41,215.84 L535.66,215.76 L535.92,215.67 L536.18,215.58 L536.43,215.5 L536.69,215.41 L536.94,215.33 L537.2,215.24 L537.45,215.15 L537.71,215.07 L537.97,214.98 L538.22,214.89 L538.48,214.81 L538.73,214.72 L538.99,214.63 L539.25,214.54 L539.5,214.46 L539.76,214.37 L540.01,214.28 L540.27,214.19 L540.52,214.1 L540.78,214.02 L541.04,213.93 L541.29,213.84 L541.55,213.75 L541.8,213.66 L542.06,213.57 L542.31,213.48 L542.57,213.39 L542.83,213.3 L543.08,213.21 L543.34,213.12 L543.59,213.03 L543.85,212.94 L544.1,212.85 L544.36,212.76 L544.62,212.67 L544.87,212.58 L545.13,212.49 L545.38,212.4 L545.64,212.31 L545.89,212.22 L546.15,212.13 L546.41,212.04 L546.66,211.94 L546.92,211.85 L547.17,211.76 L547.43,211.67 L547.68,211.58 L547.94,211.49 L548.2,211.39 L548.45,211.3 L548.71,211.21 L548.96,211.12 L549.22,211.02 L549.48,210.93 L549.73,210.84 L549.99,210.74 L550.24,210.65 L550.5,210.56 L550.75,210.47 L551.01,210.37 L551.27,210.28 L551.52,210.18 L551.78,210.09 L552.03,210 L552.29,209.9 L552.54,209.81 L552.8,209.72 L553.06,209.62 L553.31,209.53 L553.57,209.43 L553.82,209.34 L554.08,209.24 L554.33,209.15 L554.59,209.05 L554.85,208.96 L555.1,208.86 L555.36,208.77 L555.61,208.67 L555.87,208.58 L556.12,208.48 L556.38,208.39 L556.64,208.29 L556.89,208.2 L557.15,208.1 L557.4,208.01 L557.66,207.91 L557.92,207.82 L558.17,207.72 L558.43,207.62 L558.68,207.53 L558.94,207.43 L559.19,207.34 L559.45,207.24 L559.71,207.14 L559.96,207.05 L560.22,206.95 L560.47,206.85 L560.73,206.76 L560.98,206.66 L561.24,206.56 L561.5,206.47 L561.75,206.37 L562.01,206.27 L562.26,206.18 L562.52,206.08 L562.77,205.98 L563.03,205.89 L563.29,205.79 L563.54,205.69 L563.8,205.59 L564.05,205.5 L564.31,205.4 L564.56,205.3 L564.82,205.2 L565.08,205.11 L565.33,205.01 L565.59,204.91 L565.84,204.81 L566.1,204.72 L566.35,204.62 L566.61,204.52 L566.87,204.42 L567.12,204.33 L567.38,204.23 L567.63,204.13 L567.89,204.03 L568.14,203.93 L568.4,203.84 L568.66,203.74 L568.91,203.64 L569.17,203.54 L569.42,203.44 L569.68,203.34 L569.94,203.25 L570.19,203.15 L570.45,203.05 L570.7,202.95 L570.96,202.85 L571.21,202.75 L571.47,202.66 L571.73,202.56 L571.98,202.46 L572.24,202.36 L572.49,202.26 L572.75,202.16 L573,202.07 L573.26,201.97 L573.52,201.87 L573.77,201.77 L574.03,201.67 L574.28,201.57 L574.54,201.47 L574.79,201.38 L575.05,201.28 L575.31,201.18 L575.56,201.08 L575.82,200.98 L576.07,200.88 L576.33,200.78 L576.58,200.69 L576.84,200.59 L577.1,200.49 L577.35,200.39 L577.61,200.29 L577.86,200.19 L578.12,200.09 L578.37,199.99 L578.63,199.9 L578.89,199.8 L579.14,199.7 L579.4,199.6 L579.65,199.5 L579.91,199.4 L580.17,199.3 L580.42,199.21 L580.68,199.11 L580.93,199.01 L581.19,198.91 L581.44,198.81 L581.7,198.71 L581.96,198.61 L582.21,198.52 L582.47,198.42 L582.72,198.32 L582.98,198.22 L583.23,198.12 L583.49,198.02 L583.75,197.93 L584,197.83 L584.26,197.73 L584.51,197.63 L584.77,197.53 L585.02,197.44 L585.28,197.34 L585.54,197.24 L585.79,197.14 L586.05,197.04 L586.3,196.94 L586.56,196.85 L586.81,196.75 L587.07,196.65 L587.33,196.55 L587.58,196.46 L587.84,196.36 L588.09,196.26 L588.35,196.16 L588.6,196.06 L588.86,195.97 L589.12,195.87 L589.37,195.77 L589.63,195.67 L589.88,195.58 L590.14,195.48 L590.4,195.38 L590.65,195.28 L590.91,195.19 L591.16,195.09 L591.42,194.99 L591.67,194.9 L591.93,194.8 L592.19,194.7 L592.44,194.61 L592.7,194.51 L592.95,194.41 L593.21,194.32 L593.46,194.22 L593.72,194.12 L593.98,194.03 L594.23,193.93 L594.49,193.83 L594.74,193.74 L595,193.64 L595.25,193.54 L595.51,193.45 L595.77,193.35 L596.02,193.25 L596.28,193.16 L596.53,193.06 L596.79,192.97 L597.04,192.87 L597.3,192.77 L597.56,192.68 L597.81,192.58 L598.07,192.48 L598.32,192.39 L598.58,192.29 L598.83,192.2 L599.09,192.1 L599.35,192 L599.6,191.91 L599.86,191.81 L600.11,191.72 L600.37,191.62 L600.63,191.53 L600.88,191.43 L601.14,191.33 L601.39,191.24 L601.65,191.14 L601.9,191.05 L602.16,190.95 L602.42,190.86 L602.67,190.76 L602.93,190.66 L603.18,190.57 L603.44,190.47 L603.69,190.38 L603.95,190.28 L604.21,190.19 L604.46,190.09 L604.72,190 L604.97,189.9 L605.23,189.8 L605.48,189.71 L605.74,189.61 L606,189.52 L606.25,189.42 L606.51,189.33 L606.76,189.23 L607.02,189.14 L607.27,189.04 L607.53,188.94 L607.79,188.85 L608.04,188.75 L608.3,188.66 L608.55,188.56 L608.81,188.47 L609.07,188.37 L609.32,188.28 L609.58,188.18 L609.83,188.08 L610.09,187.99 L610.34,187.89 L610.6,187.8 L610.86,187.7 L611.11,187.61 L611.37,187.51 L611.62,187.42 L611.88,187.32 L612.13,187.22 L612.39,187.13 L612.65,187.03 L612.9,186.94 L613.16,186.84 L613.41,186.75 L613.67,186.65 L613.92,186.55 L614.18,186.46 L614.44,186.36 L614.69,186.27 L614.95,186.17 L615.2,186.07 L615.46,185.98 L615.71,185.88 L615.97,185.79 L616.23,185.69 L616.48,185.59 L616.74,185.5 L616.99,185.4 L617.25,185.31 L617.5,185.21 L617.76,185.11 L618.02,185.02 L618.27,184.92 L618.53,184.82 L618.78,184.73 L619.04,184.63 L619.3,184.54 L619.55,184.44 L619.81,184.34 L620.06,184.25 L620.32,184.15 L620.57,184.05 L620.83,183.96 L621.09,183.86 L621.34,183.76 L621.6,183.66 L621.85,183.57 L622.11,183.47 L622.36,183.37 L622.62,183.28 L622.88,183.18 L623.13,183.08 L623.39,182.99 L623.64,182.89 L623.9,182.79 L624.15,182.69 L624.41,182.6 L624.67,182.5 L624.92,182.4 L625.18,182.3 L625.43,182.21 L625.69,182.11 L625.94,182.01 L626.2,181.91 L626.46,181.81 L626.71,181.72 L626.97,181.62 L627.22,181.52 L627.48,181.42 L627.74,181.32 L627.99,181.22 L628.25,181.13 L628.5,181.03 L628.76,180.93 L629.01,180.83 L629.27,180.73 L629.53,180.63 L629.78,180.53 L630.04,180.44 L630.29,180.34 L630.55,180.24 L630.8,180.14 L631.06,180.04 L631.32,179.94 L631.57,179.84 L631.83,179.74 L632.08,179.64 L632.34,179.54 L632.59,179.44 L632.85,179.34 L633.11,179.24 L633.36,179.14 L633.62,179.04 L633.87,178.94 L634.13,178.84 L634.38,178.74 L634.64,178.64 L634.9,178.54 L635.15,178.44 L635.41,178.34 L635.66,178.24 L635.92,178.13 L636.17,178.03 L636.43,177.93 L636.69,177.83 L636.94,177.73 L637.2,177.62 L637.45,177.52 L637.71,177.42 L637.97,177.32 L638.22,177.21 L638.48,177.11 L638.73,177.01 L638.99,176.91 L639.24,176.8 L639.5,176.7 L639.76,176.59 L640.01,176.49 L640.27,176.38 L640.52,176.28 L640.78,176.18 L641.03,176.07 L641.29,175.96 L641.55,175.86 L641.8,175.75 L642.06,175.65 L642.31,175.54 L642.57,175.43 L642.82,175.33 L643.08,175.22 L643.34,175.11 L643.59,175.01 L643.85,174.9 L644.1,174.79 L644.36,174.68 L644.62,174.57 L644.87,174.46 L645.13,174.36 L645.38,174.25 L645.64,174.14 L645.89,174.03 L646.15,173.92 L646.41,173.8 L646.66,173.69 L646.92,173.58 L647.17,173.47 L647.43,173.36 L647.68,173.25 L647.94,173.13 L648.2,173.02 L648.45,172.91 L648.71,172.79 L648.96,172.68 L649.22,172.57 L649.47,172.45 L649.73,172.34 L649.99,172.22 L650.24,172.11 L650.5,171.99 L650.75,171.87 L651.01,171.76 L651.26,171.64 L651.52,171.52 L651.78,171.4 L652.03,171.29 L652.29,171.17 L652.54,171.05 L652.8,170.93 L653.06,170.81 L653.31,170.69 L653.57,170.57 L653.82,170.45 L654.08,170.33 L654.33,170.2 L654.59,170.08 L654.84,169.96 L655.1,169.83 L655.36,169.71 L655.61,169.59 L655.87,169.46 L656.12,169.34 L656.38,169.21 L656.64,169.09 L656.89,168.96 L657.15,168.83 L657.4,168.71 L657.66,168.58 L657.91,168.45 L658.17,168.32 L658.43,168.19 L658.68,168.06 L658.94,167.93 L659.19,167.8 L659.45,167.67 L659.71,167.54 L659.96,167.41 L660.22,167.27 L660.47,167.14 L660.73,167.01 L660.98,166.87 L661.24,166.74 L661.5,166.6 L661.75,166.46 L662.01,166.33 L662.26,166.19 L662.52,166.05 L662.77,165.92 L663.03,165.78 L663.29,165.64 L663.54,165.5 L663.8,165.36 L664.05,165.22 L664.31,165.08 L664.56,164.93 L664.82,164.79 L665.08,164.65 L665.33,164.5 L665.59,164.36 L665.84,164.22 L666.1,164.07 L666.35,163.92 L666.61,163.78 L666.86,163.63 L667.12,163.48 L667.38,163.33 L667.63,163.18 L667.89,163.03 L668.15,162.88 L668.4,162.73 L668.66,162.58 L668.91,162.43 L669.17,162.28 L669.42,162.12 L669.68,161.97 L669.93,161.82 L670.19,161.66 L670.45,161.5 L670.7,161.35 L670.96,161.19 L671.21,161.03 L671.47,160.87 L671.73,160.71 L671.98,160.55 L672.24,160.39 L672.49,160.23 L672.75,160.07 L673,159.91 L673.26,159.75 L673.52,159.58 L673.77,159.42 L674.03,159.25 L674.28,159.09 L674.54,158.92 L674.8,158.76 L675.05,158.59 L675.31,158.42 L675.56,158.25 L675.82,158.08 L676.07,157.91 L676.33,157.74 L676.58,157.57 L676.84,157.4 L677.1,157.23 L677.35,157.05 L677.61,156.88 L677.86,156.71 L678.12,156.53 L678.38,156.36 L678.63,156.18 L678.89,156.01 L679.14,155.83 L679.4,155.65 L679.65,155.47 L679.91,155.29 L680.17,155.11 L680.42,154.93 L680.68,154.75 L680.93,154.57 L681.19,154.39 L681.44,154.2 L681.7,154.02 L681.95,153.84 L682.21,153.65 L682.47,153.47 L682.72,153.28 L682.98,153.09 L683.24,152.9 L683.49,152.72 L683.75,152.53 L684,152.34 L684.26,152.15 L684.51,151.96 L684.77,151.77 L685.02,151.58 L685.28,151.38 L685.54,151.19 L685.79,151 L686.05,150.8 L686.3,150.61 L686.56,150.41 L686.82,150.21 L687.07,150.02 L687.33,149.82 L687.58,149.62 L687.84,149.42 L688.09,149.22 L688.35,149.02 L688.6,148.82 L688.86,148.62 L689.12,148.42 L689.37,148.21 L689.63,148.01 L689.89,147.81 L690.14,147.6 L690.4,147.4 L690.65,147.19 L690.91,146.98 L691.16,146.78 L691.42,146.57 L691.67,146.36 L691.93,146.15 L692.19,145.94 L692.44,145.73 L692.7,145.52 L692.95,145.31 L693.21,145.09 L693.47,144.88 L693.72,144.67 L693.98,144.45 L694.23,144.24 L694.49,144.02 L694.74,143.81 L695,143.59 L695.26,143.37 L695.51,143.15 L695.77,142.93 L696.02,142.71 L696.28,142.49 L696.53,142.27 L696.79,142.05 L697.05,141.83 L697.3,141.61 L697.55,141.39 L697.81,141.16 L698.07,140.93 L698.32,140.71 L698.58,140.48 L698.84,140.26 L699.09,140.03 L699.35,139.8 L699.6,139.57 L699.86,139.34 L700.11,139.11 L700.37,138.88 L700.62,138.65 L700.88,138.42 L701.14,138.19 L701.39,137.95 L701.65,137.72 L701.91,137.48 L702.16,137.25 L702.42,137.01 L702.67,136.78 L702.93,136.54 L703.18,136.3 L703.44,136.06 L703.69,135.83 L703.95,135.59 L704.21,135.34 L704.46,135.1 L704.72,134.86 L704.97,134.62 L705.23,134.38 L705.49,134.13 L705.74,133.89 L706,133.64 L706.25,133.4 L706.51,133.15 L706.76,132.91 L707.02,132.66 L707.28,132.41 L707.53,132.16 L707.79,131.91 L708.04,131.66 L708.3,131.41 L708.56,131.16 L708.81,130.91 L709.07,130.66 L709.32,130.4 L709.58,130.15 L709.83,129.9 L710.09,129.64 L710.34,129.38 L710.6,129.13 L710.86,128.87 L711.11,128.61 L711.37,128.35 L711.62,128.09 L711.88,127.83 L712.13,127.57 L712.39,127.31 L712.64,127.05 L712.9,126.8" fill="none" stroke="#000" stroke-width="2.1" stroke-linecap="round" stroke-linejoin="round"/>
<circle cx="480.2" cy="197.7" r="4.9" fill="#000"/>
<circle cx="483.9" cy="223.4" r="4.9" fill="#000"/>
<circle cx="623.1" cy="130.4" r="4.9" fill="#000"/>
<circle cx="712.9" cy="126.8" r="4.9" fill="#000"/>
<rect x="603" y="276" width="38" height="23" fill="#fff"/>
<rect x="692" y="276" width="40" height="23" fill="#fff"/>
<text id="v041" x="621.3" y="293.6" font-size="17" text-anchor="middle" font-weight="bold" textLength="33.06" lengthAdjust="spacingAndGlyphs">0.41</text>
<text id="v063" x="711.6" y="293.6" font-size="17" text-anchor="middle" font-weight="bold" textLength="34.64" lengthAdjust="spacingAndGlyphs">0.63</text>
<rect x="443.5" y="10.4" width="295.8" height="295.9" fill="none" stroke="#3c3c3c" stroke-width="1.4"/>
<path d="M463.22,306.3v-5.5 M463.22,10.4v5.5 M502.66,306.3v-5.5 M502.66,10.4v5.5 M542.1,306.3v-5.5 M542.1,10.4v5.5 M581.54,306.3v-5.5 M581.54,10.4v5.5 M620.98,306.3v-5.5 M620.98,10.4v5.5 M660.42,306.3v-5.5 M660.42,10.4v5.5 M699.86,306.3v-5.5 M699.86,10.4v5.5 M739.3,306.3v-5.5 M739.3,10.4v5.5 M447.44,306.3v-3 M447.44,10.4v3 M455.33,306.3v-3 M455.33,10.4v3 M471.11,306.3v-3 M471.11,10.4v3 M479,306.3v-3 M479,10.4v3 M486.88,306.3v-3 M486.88,10.4v3 M494.77,306.3v-3 M494.77,10.4v3 M510.55,306.3v-3 M510.55,10.4v3 M518.44,306.3v-3 M518.44,10.4v3 M526.32,306.3v-3 M526.32,10.4v3 M534.21,306.3v-3 M534.21,10.4v3 M549.99,306.3v-3 M549.99,10.4v3 M557.88,306.3v-3 M557.88,10.4v3 M565.76,306.3v-3 M565.76,10.4v3 M573.65,306.3v-3 M573.65,10.4v3 M589.43,306.3v-3 M589.43,10.4v3 M597.32,306.3v-3 M597.32,10.4v3 M605.2,306.3v-3 M605.2,10.4v3 M613.09,306.3v-3 M613.09,10.4v3 M628.87,306.3v-3 M628.87,10.4v3 M636.76,306.3v-3 M636.76,10.4v3 M644.64,306.3v-3 M644.64,10.4v3 M652.53,306.3v-3 M652.53,10.4v3 M668.31,306.3v-3 M668.31,10.4v3 M676.2,306.3v-3 M676.2,10.4v3 M684.08,306.3v-3 M684.08,10.4v3 M691.97,306.3v-3 M691.97,10.4v3 M707.75,306.3v-3 M707.75,10.4v3 M715.64,306.3v-3 M715.64,10.4v3 M723.52,306.3v-3 M723.52,10.4v3 M731.41,306.3v-3 M731.41,10.4v3 M443.5,158.35h5.5 M739.3,158.35h-5.5 M443.5,261.76h3 M739.3,261.76h-3 M443.5,235.71h3 M739.3,235.71h-3 M443.5,217.23h3 M739.3,217.23h-3 M443.5,202.89h3 M739.3,202.89h-3 M443.5,191.17h3 M739.3,191.17h-3 M443.5,181.27h3 M739.3,181.27h-3 M443.5,172.69h3 M739.3,172.69h-3 M443.5,165.12h3 M739.3,165.12h-3 M443.5,113.81h3 M739.3,113.81h-3 M443.5,87.76h3 M739.3,87.76h-3 M443.5,69.28h3 M739.3,69.28h-3 M443.5,54.94h3 M739.3,54.94h-3 M443.5,43.22h3 M739.3,43.22h-3 M443.5,33.32h3 M739.3,33.32h-3 M443.5,24.74h3 M739.3,24.74h-3 M443.5,17.17h3 M739.3,17.17h-3 " stroke="#3c3c3c" stroke-width="1.2" fill="none"/>
<text x="463.22" y="321.7" font-size="12" text-anchor="middle" font-weight="normal">0</text>
<text x="502.66" y="321.7" font-size="12" text-anchor="middle" font-weight="normal">0.1</text>
<text x="542.1" y="321.7" font-size="12" text-anchor="middle" font-weight="normal">0.2</text>
<text x="581.54" y="321.7" font-size="12" text-anchor="middle" font-weight="normal">0.3</text>
<text x="620.98" y="321.7" font-size="12" text-anchor="middle" font-weight="normal">0.4</text>
<text x="660.42" y="321.7" font-size="12" text-anchor="middle" font-weight="normal">0.5</text>
<text x="699.86" y="321.7" font-size="12" text-anchor="middle" font-weight="normal">0.6</text>
<text x="739.3" y="321.7" font-size="12" text-anchor="middle" font-weight="normal">0.7</text>
<text x="438.2" y="13.6" font-size="12" text-anchor="end">10<tspan font-size="9.5" dy="-5.2">-4</tspan></text>
<text x="438.2" y="161.55" font-size="12" text-anchor="end">10<tspan font-size="9.5" dy="-5.2">-5</tspan></text>
<text x="438.2" y="309.5" font-size="12" text-anchor="end">10<tspan font-size="9.5" dy="-5.2">-6</tspan></text>
<text id="xlabB" class="hv" x="590.5" y="348.3" font-size="15" text-anchor="middle" font-weight="normal" textLength="98.72" lengthAdjust="spacingAndGlyphs">Creep Strain, <tspan font-family="Liberation Serif" font-style="italic" font-size="17.5">ε</tspan></text>
<text id="ylabB" class="hv" transform="translate(410,160.15) rotate(-90) scale(0.9367,1)" font-size="15.8" text-anchor="middle" font-weight="normal">Strain Rate, <tspan font-family="Liberation Serif" font-style="italic" font-size="17" dx="1">ε</tspan><tspan font-family="Liberation Serif" font-size="17" dx="-5.2" dy="-1.6">˙</tspan><tspan dx="-0.5" dy="1.6"> / s</tspan><tspan font-size="10" dy="-5.5">-1</tspan></text>
<text id="labB" x="375.1" y="24.3" font-size="25" text-anchor="start" font-weight="bold" textLength="32.82" lengthAdjust="spacingAndGlyphs">(b)</text>
<text id="condB" class="hv" x="453.8" y="34.5" font-size="14.5" text-anchor="start" font-weight="normal" textLength="113.04" lengthAdjust="spacingAndGlyphs">1500°C, 170MPa</text>
<text id="mosiB" class="hv" x="655.7" y="36" font-size="14.5" text-anchor="start" font-weight="normal" textLength="67.41" lengthAdjust="spacingAndGlyphs">MoSiBTiC</text>
<text id="r52" class="hv" x="487.4" y="209.5" font-size="16" text-anchor="start" font-weight="normal" textLength="67.16" lengthAdjust="spacingAndGlyphs">5.2<tspan font-weight="bold">×</tspan>10<tspan font-size="11" dy="-9.2">-6</tspan></text>
<text id="r36" class="hv" x="488" y="239.9" font-size="16" text-anchor="start" font-weight="normal" textLength="66.92" lengthAdjust="spacingAndGlyphs">3.6<tspan font-weight="bold">×</tspan>10<tspan font-size="11" dy="-9.2">-6</tspan></text>
<line x1="267.96" y1="368.7" x2="267.96" y2="665.7" stroke="#e3e3e3" stroke-width="1"/>
<line x1="308.13" y1="368.7" x2="308.13" y2="665.7" stroke="#e3e3e3" stroke-width="1"/>
<line x1="348.29" y1="368.7" x2="348.29" y2="665.7" stroke="#e3e3e3" stroke-width="1"/>
<line x1="388.45" y1="368.7" x2="388.45" y2="665.7" stroke="#e3e3e3" stroke-width="1"/>
<line x1="428.61" y1="368.7" x2="428.61" y2="665.7" stroke="#e3e3e3" stroke-width="1"/>
<line x1="468.78" y1="368.7" x2="468.78" y2="665.7" stroke="#e3e3e3" stroke-width="1"/>
<line x1="508.94" y1="368.7" x2="508.94" y2="665.7" stroke="#e3e3e3" stroke-width="1"/>
<line x1="251.9" y1="517.2" x2="549.1" y2="517.2" stroke="#e3e3e3" stroke-width="1"/>
<line x1="387.4" y1="485.8" x2="387.4" y2="665.7" stroke="#000" stroke-width="2" stroke-dasharray="8.7 5.5"/>
<line x1="525" y1="485.8" x2="525" y2="665.7" stroke="#000" stroke-width="2" stroke-dasharray="8.7 5.5"/>
<path d="M267.9,507.4 L268.01,508.24 L268.11,509.08 L268.22,509.93 L268.33,510.79 L268.43,511.64 L268.54,512.49 L268.64,513.33 L268.75,514.17 L268.86,515 L268.97,515.81 L269.08,516.62 L269.2,517.4 L269.3,518.07 L269.41,518.74 L269.52,519.39 L269.63,520.03 L269.74,520.67 L269.85,521.3 L269.96,521.93 L270.07,522.55 L270.18,523.17 L270.29,523.78 L270.4,524.39 L270.5,525 L270.59,525.56 L270.69,526.11 L270.78,526.66 L270.87,527.2 L270.96,527.75 L271.04,528.28 L271.13,528.82 L271.22,529.35 L271.31,529.89 L271.41,530.42 L271.5,530.96 L271.6,531.5 L271.7,532.04 L271.8,532.59 L271.9,533.14 L272,533.69 L272.1,534.24 L272.2,534.79 L272.31,535.33 L272.42,535.88 L272.53,536.41 L272.65,536.95 L272.77,537.48 L272.9,538 L273.02,538.49 L273.15,538.97 L273.28,539.45 L273.41,539.92 L273.54,540.4 L273.68,540.87 L273.82,541.33 L273.97,541.79 L274.12,542.25 L274.27,542.7 L274.43,543.15 L274.6,543.6 L274.76,544.02 L274.93,544.44 L275.09,544.85 L275.27,545.26 L275.44,545.66 L275.62,546.06 L275.81,546.46 L276,546.86 L276.19,547.25 L276.39,547.64 L276.59,548.02 L276.8,548.4 L277.01,548.77 L277.22,549.14 L277.43,549.52 L277.65,549.89 L277.87,550.26 L278.1,550.62 L278.33,550.98 L278.57,551.32 L278.82,551.66 L279.07,551.99 L279.33,552.3 L279.6,552.6 L279.85,552.87 L280.11,553.13 L280.38,553.39 L280.65,553.64 L280.92,553.88 L281.2,554.11 L281.49,554.34 L281.78,554.54 L282.08,554.73 L282.38,554.91 L282.69,555.06 L283,555.2 L283.31,555.31 L283.63,555.4 L283.95,555.47 L284.28,555.52 L284.62,555.56 L284.96,555.58 L285.3,555.6 L285.64,555.6 L285.98,555.61 L286.33,555.6 L286.66,555.6 L287,555.6 L287.33,555.59 L287.66,555.58 L287.99,555.55 L288.32,555.52 L288.64,555.48 L288.97,555.44 L289.3,555.4 L289.63,555.36 L289.97,555.31 L290.31,555.27 L290.65,555.23 L291,555.2 L291.4,555.17 L291.81,555.14 L292.24,555.11 L292.67,555.08 L293.1,555.05 L293.54,555.02 L293.97,555 L294.4,554.97 L294.82,554.94 L295.23,554.92 L295.62,554.9 L296,554.87 L296.29,554.86 L296.57,554.84 L296.84,554.82 L297.11,554.81 L297.37,554.79 L297.62,554.78 L297.88,554.77 L298.13,554.75 L298.38,554.74 L298.64,554.72 L298.89,554.7 L299.16,554.69 L299.42,554.67 L299.68,554.65 L299.94,554.63 L300.21,554.61 L300.47,554.59 L300.73,554.57 L301,554.55 L301.26,554.52 L301.52,554.5 L301.78,554.47 L302.05,554.45 L302.31,554.42 L302.57,554.39 L302.84,554.36 L303.1,554.33 L303.36,554.3 L303.63,554.27 L303.89,554.23 L304.15,554.2 L304.42,554.16 L304.68,554.12 L304.94,554.08 L305.2,554.04 L305.47,554 L305.73,553.95 L305.99,553.9 L306.26,553.86 L306.52,553.81 L306.78,553.76 L307.05,553.7 L307.31,553.65 L307.57,553.59 L307.83,553.53 L308.1,553.47 L308.36,553.41 L308.62,553.35 L308.88,553.28 L309.15,553.21 L309.41,553.14 L309.68,553.07 L309.94,552.99 L310.2,552.92 L310.47,552.84 L310.73,552.76 L310.99,552.68 L311.25,552.6 L311.51,552.51 L311.78,552.43 L312.04,552.34 L312.3,552.25 L312.57,552.16 L312.83,552.07 L313.09,551.98 L313.36,551.88 L313.62,551.79 L313.88,551.69 L314.14,551.59 L314.41,551.49 L314.67,551.39 L314.93,551.29 L315.19,551.19 L315.46,551.09 L315.72,550.99 L315.98,550.88 L316.25,550.78 L316.51,550.67 L316.77,550.56 L317.04,550.45 L317.3,550.35 L317.56,550.24 L317.82,550.13 L318.09,550.02 L318.35,549.91 L318.61,549.8 L318.88,549.69 L319.14,549.58 L319.4,549.47 L319.66,549.36 L319.93,549.24 L320.19,549.13 L320.45,549.02 L320.72,548.91 L320.98,548.8 L321.24,548.68 L321.5,548.57 L321.77,548.46 L322.03,548.35 L322.29,548.24 L322.56,548.13 L322.82,548.01 L323.08,547.9 L323.34,547.79 L323.61,547.68 L323.87,547.57 L324.13,547.45 L324.4,547.34 L324.66,547.23 L324.92,547.12 L325.19,547.01 L325.45,546.89 L325.71,546.78 L325.97,546.67 L326.24,546.56 L326.5,546.45 L326.76,546.33 L327.03,546.22 L327.29,546.11 L327.55,546 L327.81,545.88 L328.08,545.77 L328.34,545.66 L328.6,545.54 L328.87,545.43 L329.13,545.32 L329.39,545.2 L329.66,545.09 L329.92,544.97 L330.18,544.86 L330.44,544.75 L330.71,544.63 L330.97,544.52 L331.23,544.4 L331.5,544.29 L331.76,544.17 L332.02,544.05 L332.29,543.94 L332.55,543.82 L332.81,543.71 L333.07,543.59 L333.34,543.47 L333.6,543.36 L333.86,543.24 L334.13,543.12 L334.39,543 L334.65,542.88 L334.91,542.76 L335.18,542.65 L335.44,542.53 L335.7,542.41 L335.97,542.29 L336.23,542.17 L336.49,542.05 L336.75,541.93 L337.02,541.8 L337.28,541.68 L337.54,541.56 L337.81,541.44 L338.07,541.31 L338.33,541.19 L338.6,541.07 L338.86,540.94 L339.12,540.82 L339.38,540.69 L339.65,540.57 L339.91,540.44 L340.17,540.32 L340.44,540.19 L340.7,540.06 L340.96,539.94 L341.23,539.81 L341.49,539.68 L341.75,539.55 L342.01,539.42 L342.28,539.29 L342.54,539.16 L342.8,539.03 L343.07,538.9 L343.33,538.77 L343.59,538.64 L343.85,538.5 L344.12,538.37 L344.38,538.24 L344.64,538.1 L344.91,537.97 L345.17,537.83 L345.43,537.69 L345.7,537.56 L345.96,537.42 L346.22,537.28 L346.48,537.14 L346.75,537.01 L347.01,536.87 L347.27,536.72 L347.54,536.58 L347.8,536.44 L348.06,536.3 L348.33,536.16 L348.59,536.01 L348.85,535.87 L349.11,535.72 L349.38,535.58 L349.64,535.43 L349.9,535.29 L350.17,535.14 L350.43,534.99 L350.69,534.84 L350.96,534.69 L351.22,534.54 L351.48,534.39 L351.74,534.24 L352.01,534.09 L352.27,533.93 L352.53,533.78 L352.79,533.62 L353.06,533.47 L353.32,533.31 L353.58,533.15 L353.85,533 L354.11,532.84 L354.37,532.68 L354.64,532.52 L354.9,532.36 L355.16,532.19 L355.42,532.03 L355.69,531.87 L355.95,531.71 L356.21,531.54 L356.48,531.37 L356.74,531.21 L357,531.04 L357.27,530.87 L357.53,530.7 L357.79,530.53 L358.06,530.36 L358.32,530.18 L358.58,530.01 L358.84,529.84 L359.1,529.66 L359.37,529.49 L359.63,529.31 L359.9,529.13 L360.16,528.95 L360.42,528.77 L360.69,528.59 L360.95,528.4 L361.21,528.22 L361.47,528.03 L361.74,527.85 L362,527.66 L362.26,527.48 L362.52,527.28 L362.79,527.09 L363.05,526.9 L363.32,526.71 L363.58,526.51 L363.84,526.32 L364.1,526.12 L364.37,525.92 L364.63,525.72 L364.89,525.52 L365.15,525.32 L365.41,525.12 L365.68,524.91 L365.94,524.71 L366.21,524.5 L366.47,524.29 L366.73,524.08 L367,523.87 L367.26,523.65 L367.52,523.44 L367.78,523.22 L368.05,523.01 L368.31,522.79 L368.57,522.57 L368.83,522.35 L369.1,522.13 L369.36,521.9 L369.63,521.68 L369.89,521.45 L370.16,521.22 L370.42,520.99 L370.68,520.76 L370.94,520.53 L371.2,520.29 L371.46,520.05 L371.72,519.81 L371.99,519.56 L372.26,519.31 L372.53,519.05 L372.79,518.8 L373.06,518.55 L373.33,518.29 L373.59,518.02 L373.85,517.75 L374.11,517.48 L374.37,517.2 L374.63,516.91 L374.88,516.62 L375.16,516.29 L375.43,515.95 L375.7,515.6 L375.97,515.25 L376.24,514.89 L376.5,514.53 L376.76,514.15 L377.02,513.77 L377.28,513.38 L377.53,512.99 L377.79,512.58 L378.03,512.17 L378.32,511.69 L378.59,511.18 L378.86,510.67 L379.13,510.15 L379.4,509.61 L379.66,509.07 L379.92,508.51 L380.17,507.96 L380.43,507.39 L380.68,506.83 L380.94,506.26 L381.19,505.68 L381.46,505.06 L381.73,504.42 L382,503.78 L382.26,503.12 L382.52,502.46 L382.78,501.8 L383.04,501.13 L383.3,500.46 L383.56,499.79 L383.82,499.13 L384.08,498.46 L384.34,497.8 L384.61,497.14 L384.87,496.49 L385.13,495.83 L385.4,495.17 L385.66,494.51 L385.92,493.85 L386.19,493.19 L386.45,492.53 L386.71,491.87 L386.97,491.21 L387.24,490.55 L387.5,489.89" fill="none" stroke="#000" stroke-width="2.1" stroke-linecap="round" stroke-linejoin="round"/>
<path d="M267.95,532.6 L267.98,532.95 L268.01,533.3 L268.03,533.65 L268.06,533.99 L268.09,534.34 L268.12,534.69 L268.15,535.04 L268.17,535.39 L268.2,535.74 L268.23,536.09 L268.27,536.44 L268.3,536.8 L268.33,537.18 L268.36,537.56 L268.39,537.95 L268.42,538.34 L268.45,538.74 L268.48,539.13 L268.52,539.52 L268.56,539.91 L268.6,540.29 L268.66,540.67 L268.72,541.04 L268.8,541.4 L268.88,541.72 L268.97,542.03 L269.07,542.34 L269.17,542.64 L269.28,542.94 L269.39,543.24 L269.51,543.53 L269.63,543.83 L269.75,544.12 L269.87,544.41 L269.99,544.7 L270.1,545 L270.21,545.29 L270.33,545.58 L270.44,545.87 L270.56,546.16 L270.67,546.45 L270.79,546.73 L270.91,547.02 L271.02,547.31 L271.14,547.6 L271.26,547.9 L271.38,548.2 L271.5,548.5 L271.63,548.83 L271.76,549.17 L271.89,549.51 L272.02,549.85 L272.16,550.2 L272.29,550.54 L272.42,550.89 L272.56,551.25 L272.69,551.61 L272.83,551.97 L272.96,552.33 L273.1,552.7 L273.25,553.12 L273.4,553.54 L273.55,553.97 L273.7,554.4 L273.85,554.84 L274.01,555.28 L274.16,555.73 L274.32,556.18 L274.48,556.63 L274.65,557.08 L274.82,557.54 L275,558 L275.21,558.52 L275.42,559.04 L275.65,559.58 L275.87,560.12 L276.11,560.66 L276.34,561.2 L276.58,561.75 L276.83,562.29 L277.07,562.83 L277.31,563.36 L277.56,563.88 L277.8,564.4 L278.03,564.88 L278.25,565.35 L278.48,565.83 L278.71,566.3 L278.94,566.77 L279.17,567.23 L279.4,567.69 L279.63,568.14 L279.87,568.59 L280.11,569.03 L280.35,569.47 L280.6,569.9 L280.83,570.29 L281.06,570.68 L281.3,571.07 L281.53,571.45 L281.77,571.83 L282.02,572.2 L282.26,572.57 L282.5,572.93 L282.75,573.28 L283,573.63 L283.25,573.97 L283.5,574.3 L283.73,574.59 L283.95,574.87 L284.18,575.14 L284.41,575.41 L284.64,575.68 L284.87,575.93 L285.1,576.19 L285.34,576.44 L285.58,576.68 L285.82,576.93 L286.06,577.16 L286.3,577.4 L286.53,577.62 L286.77,577.84 L287.01,578.05 L287.24,578.26 L287.49,578.47 L287.73,578.68 L287.97,578.88 L288.21,579.07 L288.46,579.26 L288.71,579.45 L288.95,579.63 L289.2,579.8 L289.43,579.96 L289.65,580.1 L289.87,580.25 L290.08,580.39 L290.3,580.52 L290.52,580.66 L290.75,580.78 L290.98,580.91 L291.22,581.03 L291.47,581.16 L291.73,581.28 L292,581.4 L292.39,581.56 L292.81,581.73 L293.25,581.88 L293.71,582.04 L294.18,582.2 L294.66,582.34 L295.15,582.49 L295.65,582.63 L296.14,582.76 L296.64,582.88 L297.12,582.99 L297.6,583.1 L298.07,583.19 L298.55,583.28 L299.03,583.36 L299.52,583.43 L300.01,583.5 L300.5,583.55 L300.98,583.61 L301.45,583.66 L301.91,583.7 L302.36,583.74 L302.79,583.78 L303.2,583.81 L303.49,583.83 L303.77,583.85 L304.03,583.86 L304.29,583.87 L304.55,583.88 L304.8,583.89 L305.04,583.9 L305.29,583.9 L305.53,583.9 L305.78,583.91 L306.03,583.91 L306.28,583.91 L306.54,583.91 L306.8,583.91 L307.05,583.91 L307.31,583.91 L307.57,583.91 L307.82,583.9 L308.08,583.9 L308.34,583.89 L308.59,583.89 L308.85,583.88 L309.11,583.87 L309.36,583.87 L309.62,583.86 L309.88,583.85 L310.13,583.84 L310.39,583.83 L310.65,583.82 L310.91,583.81 L311.16,583.79 L311.42,583.78 L311.68,583.77 L311.93,583.75 L312.19,583.74 L312.45,583.73 L312.7,583.71 L312.96,583.7 L313.22,583.68 L313.47,583.67 L313.73,583.65 L313.99,583.64 L314.24,583.62 L314.5,583.61 L314.76,583.59 L315.01,583.57 L315.27,583.56 L315.53,583.54 L315.78,583.53 L316.04,583.51 L316.3,583.5 L316.56,583.48 L316.81,583.46 L317.07,583.45 L317.33,583.43 L317.58,583.42 L317.84,583.4 L318.1,583.38 L318.35,583.37 L318.61,583.35 L318.87,583.33 L319.12,583.32 L319.38,583.3 L319.64,583.28 L319.89,583.27 L320.15,583.25 L320.41,583.23 L320.66,583.22 L320.92,583.2 L321.18,583.18 L321.43,583.17 L321.69,583.15 L321.95,583.13 L322.21,583.11 L322.46,583.1 L322.72,583.08 L322.98,583.06 L323.23,583.04 L323.49,583.03 L323.75,583.01 L324,582.99 L324.26,582.97 L324.52,582.95 L324.77,582.94 L325.03,582.92 L325.29,582.9 L325.54,582.88 L325.8,582.86 L326.06,582.84 L326.31,582.82 L326.57,582.8 L326.83,582.78 L327.09,582.76 L327.34,582.74 L327.6,582.72 L327.86,582.7 L328.11,582.68 L328.37,582.66 L328.63,582.64 L328.88,582.62 L329.14,582.6 L329.4,582.58 L329.65,582.56 L329.91,582.54 L330.17,582.52 L330.42,582.5 L330.68,582.47 L330.94,582.45 L331.19,582.43 L331.45,582.41 L331.71,582.39 L331.96,582.36 L332.22,582.34 L332.48,582.32 L332.74,582.29 L332.99,582.27 L333.25,582.25 L333.51,582.22 L333.76,582.2 L334.02,582.17 L334.28,582.15 L334.53,582.13 L334.79,582.1 L335.05,582.07 L335.3,582.05 L335.56,582.02 L335.82,582 L336.07,581.97 L336.33,581.95 L336.59,581.92 L336.84,581.89 L337.1,581.87 L337.36,581.84 L337.62,581.81 L337.87,581.78 L338.13,581.76 L338.39,581.73 L338.64,581.7 L338.9,581.67 L339.16,581.64 L339.41,581.61 L339.67,581.58 L339.93,581.55 L340.18,581.52 L340.44,581.49 L340.7,581.46 L340.95,581.43 L341.21,581.4 L341.47,581.37 L341.72,581.34 L341.98,581.3 L342.24,581.27 L342.5,581.24 L342.75,581.21 L343.01,581.17 L343.27,581.14 L343.52,581.11 L343.78,581.07 L344.04,581.04 L344.29,581 L344.55,580.97 L344.81,580.93 L345.06,580.9 L345.32,580.86 L345.58,580.82 L345.83,580.79 L346.09,580.75 L346.35,580.71 L346.6,580.67 L346.86,580.64 L347.12,580.6 L347.37,580.56 L347.63,580.52 L347.89,580.48 L348.15,580.44 L348.4,580.4 L348.66,580.36 L348.92,580.32 L349.17,580.28 L349.43,580.24 L349.69,580.19 L349.94,580.15 L350.2,580.11 L350.46,580.07 L350.71,580.02 L350.97,579.98 L351.23,579.94 L351.48,579.89 L351.74,579.85 L352,579.8 L352.25,579.75 L352.51,579.71 L352.77,579.66 L353.03,579.61 L353.28,579.57 L353.54,579.52 L353.8,579.47 L354.05,579.42 L354.31,579.37 L354.57,579.32 L354.82,579.27 L355.08,579.22 L355.34,579.17 L355.59,579.12 L355.85,579.07 L356.11,579.02 L356.36,578.97 L356.62,578.91 L356.88,578.86 L357.13,578.81 L357.39,578.75 L357.65,578.7 L357.91,578.64 L358.16,578.59 L358.42,578.53 L358.67,578.47 L358.93,578.42 L359.19,578.36 L359.45,578.3 L359.7,578.24 L359.96,578.19 L360.22,578.13 L360.47,578.07 L360.73,578.01 L360.99,577.95 L361.24,577.88 L361.5,577.82 L361.76,577.76 L362.01,577.7 L362.27,577.64 L362.53,577.57 L362.79,577.51 L363.04,577.44 L363.3,577.38 L363.56,577.31 L363.81,577.25 L364.07,577.18 L364.33,577.12 L364.58,577.05 L364.84,576.98 L365.1,576.91 L365.35,576.85 L365.61,576.78 L365.87,576.71 L366.12,576.64 L366.38,576.57 L366.64,576.5 L366.89,576.43 L367.15,576.36 L367.41,576.29 L367.66,576.22 L367.92,576.15 L368.18,576.08 L368.43,576 L368.69,575.93 L368.95,575.86 L369.21,575.78 L369.46,575.71 L369.72,575.64 L369.98,575.56 L370.23,575.49 L370.49,575.42 L370.75,575.34 L371,575.27 L371.26,575.19 L371.52,575.12 L371.77,575.04 L372.03,574.96 L372.29,574.89 L372.54,574.81 L372.8,574.74 L373.06,574.66 L373.31,574.58 L373.57,574.5 L373.83,574.43 L374.08,574.35 L374.34,574.27 L374.6,574.19 L374.86,574.12 L375.11,574.04 L375.37,573.96 L375.63,573.88 L375.88,573.8 L376.14,573.72 L376.4,573.65 L376.65,573.57 L376.91,573.49 L377.17,573.41 L377.42,573.33 L377.68,573.25 L377.94,573.17 L378.19,573.09 L378.45,573.01 L378.71,572.93 L378.96,572.85 L379.22,572.77 L379.48,572.69 L379.74,572.61 L379.99,572.53 L380.25,572.45 L380.51,572.37 L380.76,572.29 L381.02,572.21 L381.28,572.13 L381.53,572.05 L381.79,571.97 L382.05,571.89 L382.3,571.81 L382.56,571.73 L382.82,571.65 L383.07,571.57 L383.33,571.49 L383.59,571.41 L383.84,571.33 L384.1,571.25 L384.36,571.17 L384.61,571.09 L384.87,571.01 L385.13,570.93 L385.39,570.85 L385.64,570.77 L385.9,570.69 L386.16,570.61 L386.41,570.53 L386.67,570.45 L386.93,570.38 L387.18,570.3 L387.44,570.22 L387.7,570.14 L387.95,570.06 L388.21,569.98 L388.47,569.9 L388.72,569.82 L388.98,569.75 L389.24,569.67 L389.49,569.59 L389.75,569.51 L390.01,569.44 L390.26,569.36 L390.52,569.28 L390.78,569.21 L391.03,569.13 L391.29,569.05 L391.55,568.98 L391.81,568.9 L392.06,568.83 L392.32,568.75 L392.58,568.67 L392.83,568.6 L393.09,568.53 L393.35,568.45 L393.6,568.38 L393.86,568.3 L394.12,568.23 L394.37,568.16 L394.63,568.08 L394.89,568.01 L395.14,567.94 L395.4,567.87 L395.66,567.79 L395.91,567.72 L396.17,567.65 L396.43,567.58 L396.69,567.51 L396.94,567.44 L397.2,567.37 L397.46,567.3 L397.71,567.23 L397.97,567.16 L398.23,567.09 L398.48,567.03 L398.74,566.96 L399,566.89 L399.25,566.82 L399.51,566.76 L399.77,566.69 L400.02,566.62 L400.28,566.56 L400.54,566.49 L400.79,566.42 L401.05,566.36 L401.31,566.29 L401.57,566.23 L401.82,566.16 L402.08,566.1 L402.34,566.03 L402.59,565.97 L402.85,565.9 L403.11,565.84 L403.36,565.78 L403.62,565.71 L403.88,565.65 L404.13,565.58 L404.39,565.52 L404.65,565.46 L404.9,565.39 L405.16,565.33 L405.42,565.27 L405.67,565.2 L405.93,565.14 L406.19,565.08 L406.45,565.01 L406.7,564.95 L406.96,564.89 L407.22,564.83 L407.47,564.76 L407.73,564.7 L407.99,564.64 L408.24,564.57 L408.5,564.51 L408.76,564.45 L409.01,564.38 L409.27,564.32 L409.53,564.26 L409.78,564.2 L410.04,564.13 L410.3,564.07 L410.55,564.01 L410.81,563.94 L411.07,563.88 L411.32,563.81 L411.58,563.75 L411.84,563.69 L412.1,563.62 L412.35,563.56 L412.61,563.49 L412.87,563.43 L413.12,563.36 L413.38,563.3 L413.64,563.23 L413.89,563.17 L414.15,563.1 L414.41,563.03 L414.66,562.97 L414.92,562.9 L415.18,562.83 L415.43,562.77 L415.69,562.7 L415.95,562.63 L416.21,562.56 L416.46,562.5 L416.72,562.43 L416.98,562.36 L417.23,562.29 L417.49,562.22 L417.75,562.15 L418,562.08 L418.26,562.01 L418.52,561.94 L418.77,561.87 L419.03,561.8 L419.29,561.72 L419.54,561.65 L419.8,561.58 L420.06,561.51 L420.31,561.43 L420.57,561.36 L420.83,561.28 L421.09,561.21 L421.34,561.13 L421.6,561.06 L421.86,560.98 L422.11,560.9 L422.37,560.83 L422.63,560.75 L422.88,560.67 L423.14,560.59 L423.4,560.51 L423.65,560.43 L423.91,560.35 L424.17,560.27 L424.42,560.19 L424.68,560.11 L424.94,560.02 L425.2,559.94 L425.45,559.86 L425.71,559.77 L425.97,559.69 L426.22,559.6 L426.48,559.52 L426.74,559.43 L426.99,559.34 L427.25,559.25 L427.51,559.16 L427.76,559.07 L428.02,558.98 L428.28,558.89 L428.53,558.8 L428.79,558.71 L429.05,558.61 L429.3,558.52 L429.56,558.43 L429.82,558.33 L430.07,558.24 L430.33,558.14 L430.59,558.04 L430.85,557.94 L431.1,557.85 L431.36,557.75 L431.62,557.65 L431.87,557.55 L432.13,557.45 L432.39,557.34 L432.64,557.24 L432.9,557.14 L433.16,557.04 L433.41,556.93 L433.67,556.83 L433.93,556.72 L434.18,556.62 L434.44,556.51 L434.7,556.4 L434.95,556.3 L435.21,556.19 L435.47,556.08 L435.72,555.97 L435.98,555.86 L436.24,555.75 L436.5,555.64 L436.75,555.53 L437.01,555.42 L437.27,555.31 L437.52,555.2 L437.78,555.09 L438.04,554.97 L438.29,554.86 L438.55,554.75 L438.81,554.63 L439.06,554.52 L439.32,554.4 L439.58,554.29 L439.83,554.17 L440.09,554.05 L440.35,553.94 L440.6,553.82 L440.86,553.7 L441.12,553.59 L441.37,553.47 L441.63,553.35 L441.89,553.23 L442.14,553.11 L442.4,552.99 L442.66,552.87 L442.92,552.75 L443.17,552.63 L443.43,552.51 L443.69,552.39 L443.94,552.27 L444.2,552.15 L444.46,552.03 L444.71,551.91 L444.97,551.78 L445.23,551.66 L445.48,551.54 L445.74,551.42 L446,551.29 L446.25,551.17 L446.51,551.05 L446.77,550.92 L447.02,550.8 L447.28,550.68 L447.54,550.55 L447.79,550.43 L448.05,550.3 L448.31,550.18 L448.57,550.05 L448.82,549.93 L449.08,549.81 L449.34,549.68 L449.59,549.55 L449.85,549.43 L450.11,549.3 L450.36,549.18 L450.62,549.05 L450.88,548.93 L451.13,548.8 L451.39,548.68 L451.65,548.55 L451.9,548.42 L452.16,548.3 L452.42,548.17 L452.67,548.05 L452.93,547.92 L453.19,547.8 L453.44,547.67 L453.7,547.54 L453.96,547.42 L454.22,547.29 L454.47,547.17 L454.73,547.04 L454.99,546.91 L455.24,546.79 L455.5,546.66 L455.76,546.54 L456.01,546.41 L456.27,546.29 L456.53,546.16 L456.78,546.04 L457.04,545.91 L457.3,545.79 L457.55,545.66 L457.81,545.54 L458.07,545.41 L458.32,545.29 L458.58,545.16 L458.84,545.04 L459.09,544.91 L459.35,544.79 L459.61,544.67 L459.87,544.54 L460.12,544.42 L460.38,544.3 L460.64,544.17 L460.89,544.05 L461.15,543.93 L461.41,543.81 L461.66,543.68 L461.92,543.56 L462.18,543.44 L462.43,543.32 L462.69,543.2 L462.95,543.08 L463.2,542.96 L463.46,542.84 L463.72,542.72 L463.97,542.6 L464.23,542.48 L464.49,542.36 L464.74,542.24 L465,542.12 L465.26,542 L465.51,541.89 L465.77,541.77 L466.03,541.65 L466.29,541.54 L466.54,541.42 L466.8,541.3 L467.06,541.19 L467.31,541.07 L467.57,540.96 L467.83,540.85 L468.08,540.73 L468.34,540.62 L468.6,540.51 L468.85,540.39 L469.11,540.28 L469.37,540.17 L469.62,540.06 L469.88,539.95 L470.14,539.83 L470.39,539.72 L470.65,539.61 L470.91,539.51 L471.17,539.4 L471.42,539.29 L471.68,539.18 L471.94,539.07 L472.19,538.96 L472.45,538.85 L472.71,538.74 L472.96,538.63 L473.22,538.52 L473.48,538.41 L473.73,538.31 L473.99,538.2 L474.25,538.09 L474.51,537.98 L474.76,537.87 L475.02,537.76 L475.28,537.65 L475.53,537.54 L475.79,537.43 L476.05,537.32 L476.3,537.21 L476.56,537.1 L476.82,536.99 L477.07,536.88 L477.33,536.77 L477.59,536.66 L477.84,536.55 L478.1,536.44 L478.36,536.33 L478.61,536.21 L478.87,536.1 L479.13,535.98 L479.39,535.87 L479.64,535.75 L479.9,535.64 L480.16,535.52 L480.41,535.41 L480.67,535.29 L480.93,535.17 L481.18,535.05 L481.44,534.94 L481.7,534.82 L481.95,534.7 L482.21,534.57 L482.47,534.45 L482.73,534.33 L482.98,534.2 L483.24,534.08 L483.5,533.95 L483.75,533.83 L484.01,533.7 L484.27,533.57 L484.52,533.44 L484.78,533.31 L485.03,533.18 L485.29,533.05 L485.55,532.92 L485.81,532.78 L486.07,532.65 L486.32,532.51 L486.58,532.37 L486.84,532.24 L487.09,532.1 L487.35,531.96 L487.61,531.81 L487.86,531.67 L488.12,531.53 L488.38,531.38 L488.63,531.23 L488.89,531.08 L489.15,530.93 L489.41,530.78 L489.66,530.63 L489.92,530.47 L490.18,530.32 L490.43,530.16 L490.69,530 L490.94,529.84 L491.2,529.68 L491.46,529.52 L491.72,529.35 L491.97,529.19 L492.23,529.02 L492.49,528.85 L492.75,528.68 L493,528.5 L493.26,528.33 L493.52,528.15 L493.77,527.98 L494.03,527.8 L494.28,527.62 L494.54,527.43 L494.8,527.24 L495.06,527.05 L495.32,526.86 L495.57,526.67 L495.83,526.48 L496.09,526.28 L496.34,526.09 L496.6,525.89 L496.85,525.69 L497.11,525.49 L497.36,525.28 L497.62,525.07 L497.88,524.86 L498.14,524.65 L498.4,524.43 L498.66,524.21 L498.91,523.99 L499.17,523.77 L499.43,523.55 L499.68,523.32 L499.94,523.09 L500.19,522.86 L500.44,522.63 L500.71,522.39 L500.97,522.15 L501.22,521.9 L501.48,521.65 L501.74,521.4 L502,521.15 L502.26,520.89 L502.51,520.64 L502.77,520.38 L503.02,520.12 L503.27,519.85 L503.53,519.58 L503.79,519.3 L504.05,519.02 L504.31,518.74 L504.57,518.45 L504.83,518.16 L505.08,517.87 L505.34,517.57 L505.6,517.28 L505.85,516.97 L506.1,516.67 L506.36,516.37 L506.61,516.06 L506.87,515.73 L507.13,515.41 L507.39,515.08 L507.65,514.74 L507.91,514.41 L508.17,514.07 L508.42,513.73 L508.68,513.38 L508.93,513.04 L509.19,512.69 L509.44,512.33 L509.69,511.98 L509.95,511.6 L510.21,511.22 L510.48,510.84 L510.73,510.45 L510.99,510.07 L511.25,509.67 L511.51,509.28 L511.76,508.88 L512.02,508.48 L512.27,508.08 L512.52,507.67 L512.77,507.26 L513.04,506.83 L513.3,506.39 L513.56,505.95 L513.82,505.5 L514.08,505.05 L514.33,504.6 L514.59,504.14 L514.84,503.69 L515.1,503.23 L515.35,502.76 L515.6,502.3 L515.85,501.83 L516.12,501.33 L516.38,500.83 L516.64,500.33 L516.9,499.82 L517.15,499.31 L517.41,498.8 L517.66,498.28 L517.92,497.76 L518.17,497.24 L518.43,496.72 L518.68,496.2 L518.94,495.68 L519.2,495.15 L519.45,494.61 L519.71,494.08 L519.97,493.54 L520.22,492.99 L520.48,492.45 L520.74,491.91 L520.99,491.37 L521.25,490.82 L521.5,490.28 L521.76,489.74 L522.02,489.21 L522.27,488.68 L522.53,488.15 L522.79,487.62 L523.04,487.09 L523.3,486.57 L523.56,486.04 L523.81,485.52 L524.07,484.99 L524.33,484.47 L524.59,483.94 L524.84,483.42 L525.1,482.89" fill="none" stroke="#000" stroke-width="2.1" stroke-linecap="round" stroke-linejoin="round"/>
<circle cx="387.5" cy="489.9" r="4.9" fill="#000"/>
<circle cx="525.1" cy="482.9" r="4.9" fill="#000"/>
<rect x="368" y="638" width="40" height="25" fill="#fff"/>
<rect x="504" y="638" width="41" height="25" fill="#fff"/>
<text id="v149" x="387" y="659" font-size="17.5" text-anchor="middle" font-weight="bold" textLength="35.47" lengthAdjust="spacingAndGlyphs">14.9</text>
<text id="v318" x="524.7" y="659.8" font-size="17.5" text-anchor="middle" font-weight="bold" textLength="35.82" lengthAdjust="spacingAndGlyphs">31.8</text>
<rect x="251.9" y="368.7" width="297.2" height="297" fill="none" stroke="#555" stroke-width="1.8"/>
<path d="M267.96,665.7v-5.5 M267.96,368.7v5.5 M308.13,665.7v-5.5 M308.13,368.7v5.5 M348.29,665.7v-5.5 M348.29,368.7v5.5 M388.45,665.7v-5.5 M388.45,368.7v5.5 M428.61,665.7v-5.5 M428.61,368.7v5.5 M468.78,665.7v-5.5 M468.78,368.7v5.5 M508.94,665.7v-5.5 M508.94,368.7v5.5 M259.93,665.7v-3 M259.93,368.7v3 M276,665.7v-3 M276,368.7v3 M284.03,665.7v-3 M284.03,368.7v3 M292.06,665.7v-3 M292.06,368.7v3 M300.09,665.7v-3 M300.09,368.7v3 M316.16,665.7v-3 M316.16,368.7v3 M324.19,665.7v-3 M324.19,368.7v3 M332.22,665.7v-3 M332.22,368.7v3 M340.26,665.7v-3 M340.26,368.7v3 M356.32,665.7v-3 M356.32,368.7v3 M364.35,665.7v-3 M364.35,368.7v3 M372.39,665.7v-3 M372.39,368.7v3 M380.42,665.7v-3 M380.42,368.7v3 M396.48,665.7v-3 M396.48,368.7v3 M404.52,665.7v-3 M404.52,368.7v3 M412.55,665.7v-3 M412.55,368.7v3 M420.58,665.7v-3 M420.58,368.7v3 M436.65,665.7v-3 M436.65,368.7v3 M444.68,665.7v-3 M444.68,368.7v3 M452.71,665.7v-3 M452.71,368.7v3 M460.74,665.7v-3 M460.74,368.7v3 M476.81,665.7v-3 M476.81,368.7v3 M484.84,665.7v-3 M484.84,368.7v3 M492.87,665.7v-3 M492.87,368.7v3 M500.91,665.7v-3 M500.91,368.7v3 M516.97,665.7v-3 M516.97,368.7v3 M525,665.7v-3 M525,368.7v3 M533.04,665.7v-3 M533.04,368.7v3 M541.07,665.7v-3 M541.07,368.7v3 M251.9,517.2h5.5 M549.1,517.2h-5.5 M251.9,621h3 M549.1,621h-3 M251.9,594.85h3 M549.1,594.85h-3 M251.9,576.29h3 M549.1,576.29h-3 M251.9,561.9h3 M549.1,561.9h-3 M251.9,550.14h3 M549.1,550.14h-3 M251.9,540.2h3 M549.1,540.2h-3 M251.9,531.59h3 M549.1,531.59h-3 M251.9,523.99h3 M549.1,523.99h-3 M251.9,472.5h3 M549.1,472.5h-3 M251.9,446.35h3 M549.1,446.35h-3 M251.9,427.79h3 M549.1,427.79h-3 M251.9,413.4h3 M549.1,413.4h-3 M251.9,401.64h3 M549.1,401.64h-3 M251.9,391.7h3 M549.1,391.7h-3 M251.9,383.09h3 M549.1,383.09h-3 M251.9,375.49h3 M549.1,375.49h-3 " stroke="#555" stroke-width="1.5" fill="none"/>
<text x="267.96" y="680.5" font-size="12" text-anchor="middle" font-weight="normal">0</text>
<text x="308.13" y="680.5" font-size="12" text-anchor="middle" font-weight="normal">5</text>
<text x="348.29" y="680.5" font-size="12" text-anchor="middle" font-weight="normal">10</text>
<text x="388.45" y="680.5" font-size="12" text-anchor="middle" font-weight="normal">15</text>
<text x="428.61" y="680.5" font-size="12" text-anchor="middle" font-weight="normal">20</text>
<text x="468.78" y="680.5" font-size="12" text-anchor="middle" font-weight="normal">25</text>
<text x="508.94" y="680.5" font-size="12" text-anchor="middle" font-weight="normal">30</text>
<text x="549.1" y="680.5" font-size="12" text-anchor="middle" font-weight="normal">35</text>
<text x="246.5" y="371.7" font-size="12" text-anchor="end">10<tspan font-size="9.5" dy="-5.2">-4</tspan></text>
<text x="246.5" y="520.2" font-size="12" text-anchor="end">10<tspan font-size="9.5" dy="-5.2">-5</tspan></text>
<text x="246.5" y="668.7" font-size="12" text-anchor="end">10<tspan font-size="9.5" dy="-5.2">-6</tspan></text>
<text id="timeC" x="399.8" y="702.7" font-size="14.5" text-anchor="middle" font-weight="bold" textLength="67.82" lengthAdjust="spacingAndGlyphs">Time, <tspan font-style="italic">t</tspan> / h</text>
<text id="ylabC" class="hv" transform="translate(218.5,518.35) rotate(-90) scale(0.9407,1)" font-size="15.8" text-anchor="middle" font-weight="normal">Strain Rate, <tspan font-family="Liberation Serif" font-style="italic" font-size="17" dx="1">ε</tspan><tspan font-family="Liberation Serif" font-size="17" dx="-5.2" dy="-1.6">˙</tspan><tspan dx="-0.5" dy="1.6"> / s</tspan><tspan font-size="10" dy="-5.5">-1</tspan></text>
<text id="labC" x="182.5" y="379" font-size="25" text-anchor="start" font-weight="bold" textLength="31.72" lengthAdjust="spacingAndGlyphs">(c)</text>
<text id="condC" class="hv" x="263.2" y="392.6" font-size="14.5" text-anchor="start" font-weight="normal" textLength="112.11" lengthAdjust="spacingAndGlyphs">1500°C, 170MPa</text>
<text id="mosiC" class="hv" x="465.3" y="394.2" font-size="14.5" text-anchor="start" font-weight="normal" textLength="66.88" lengthAdjust="spacingAndGlyphs">MoSiBTiC</text>
</svg></body></html>
